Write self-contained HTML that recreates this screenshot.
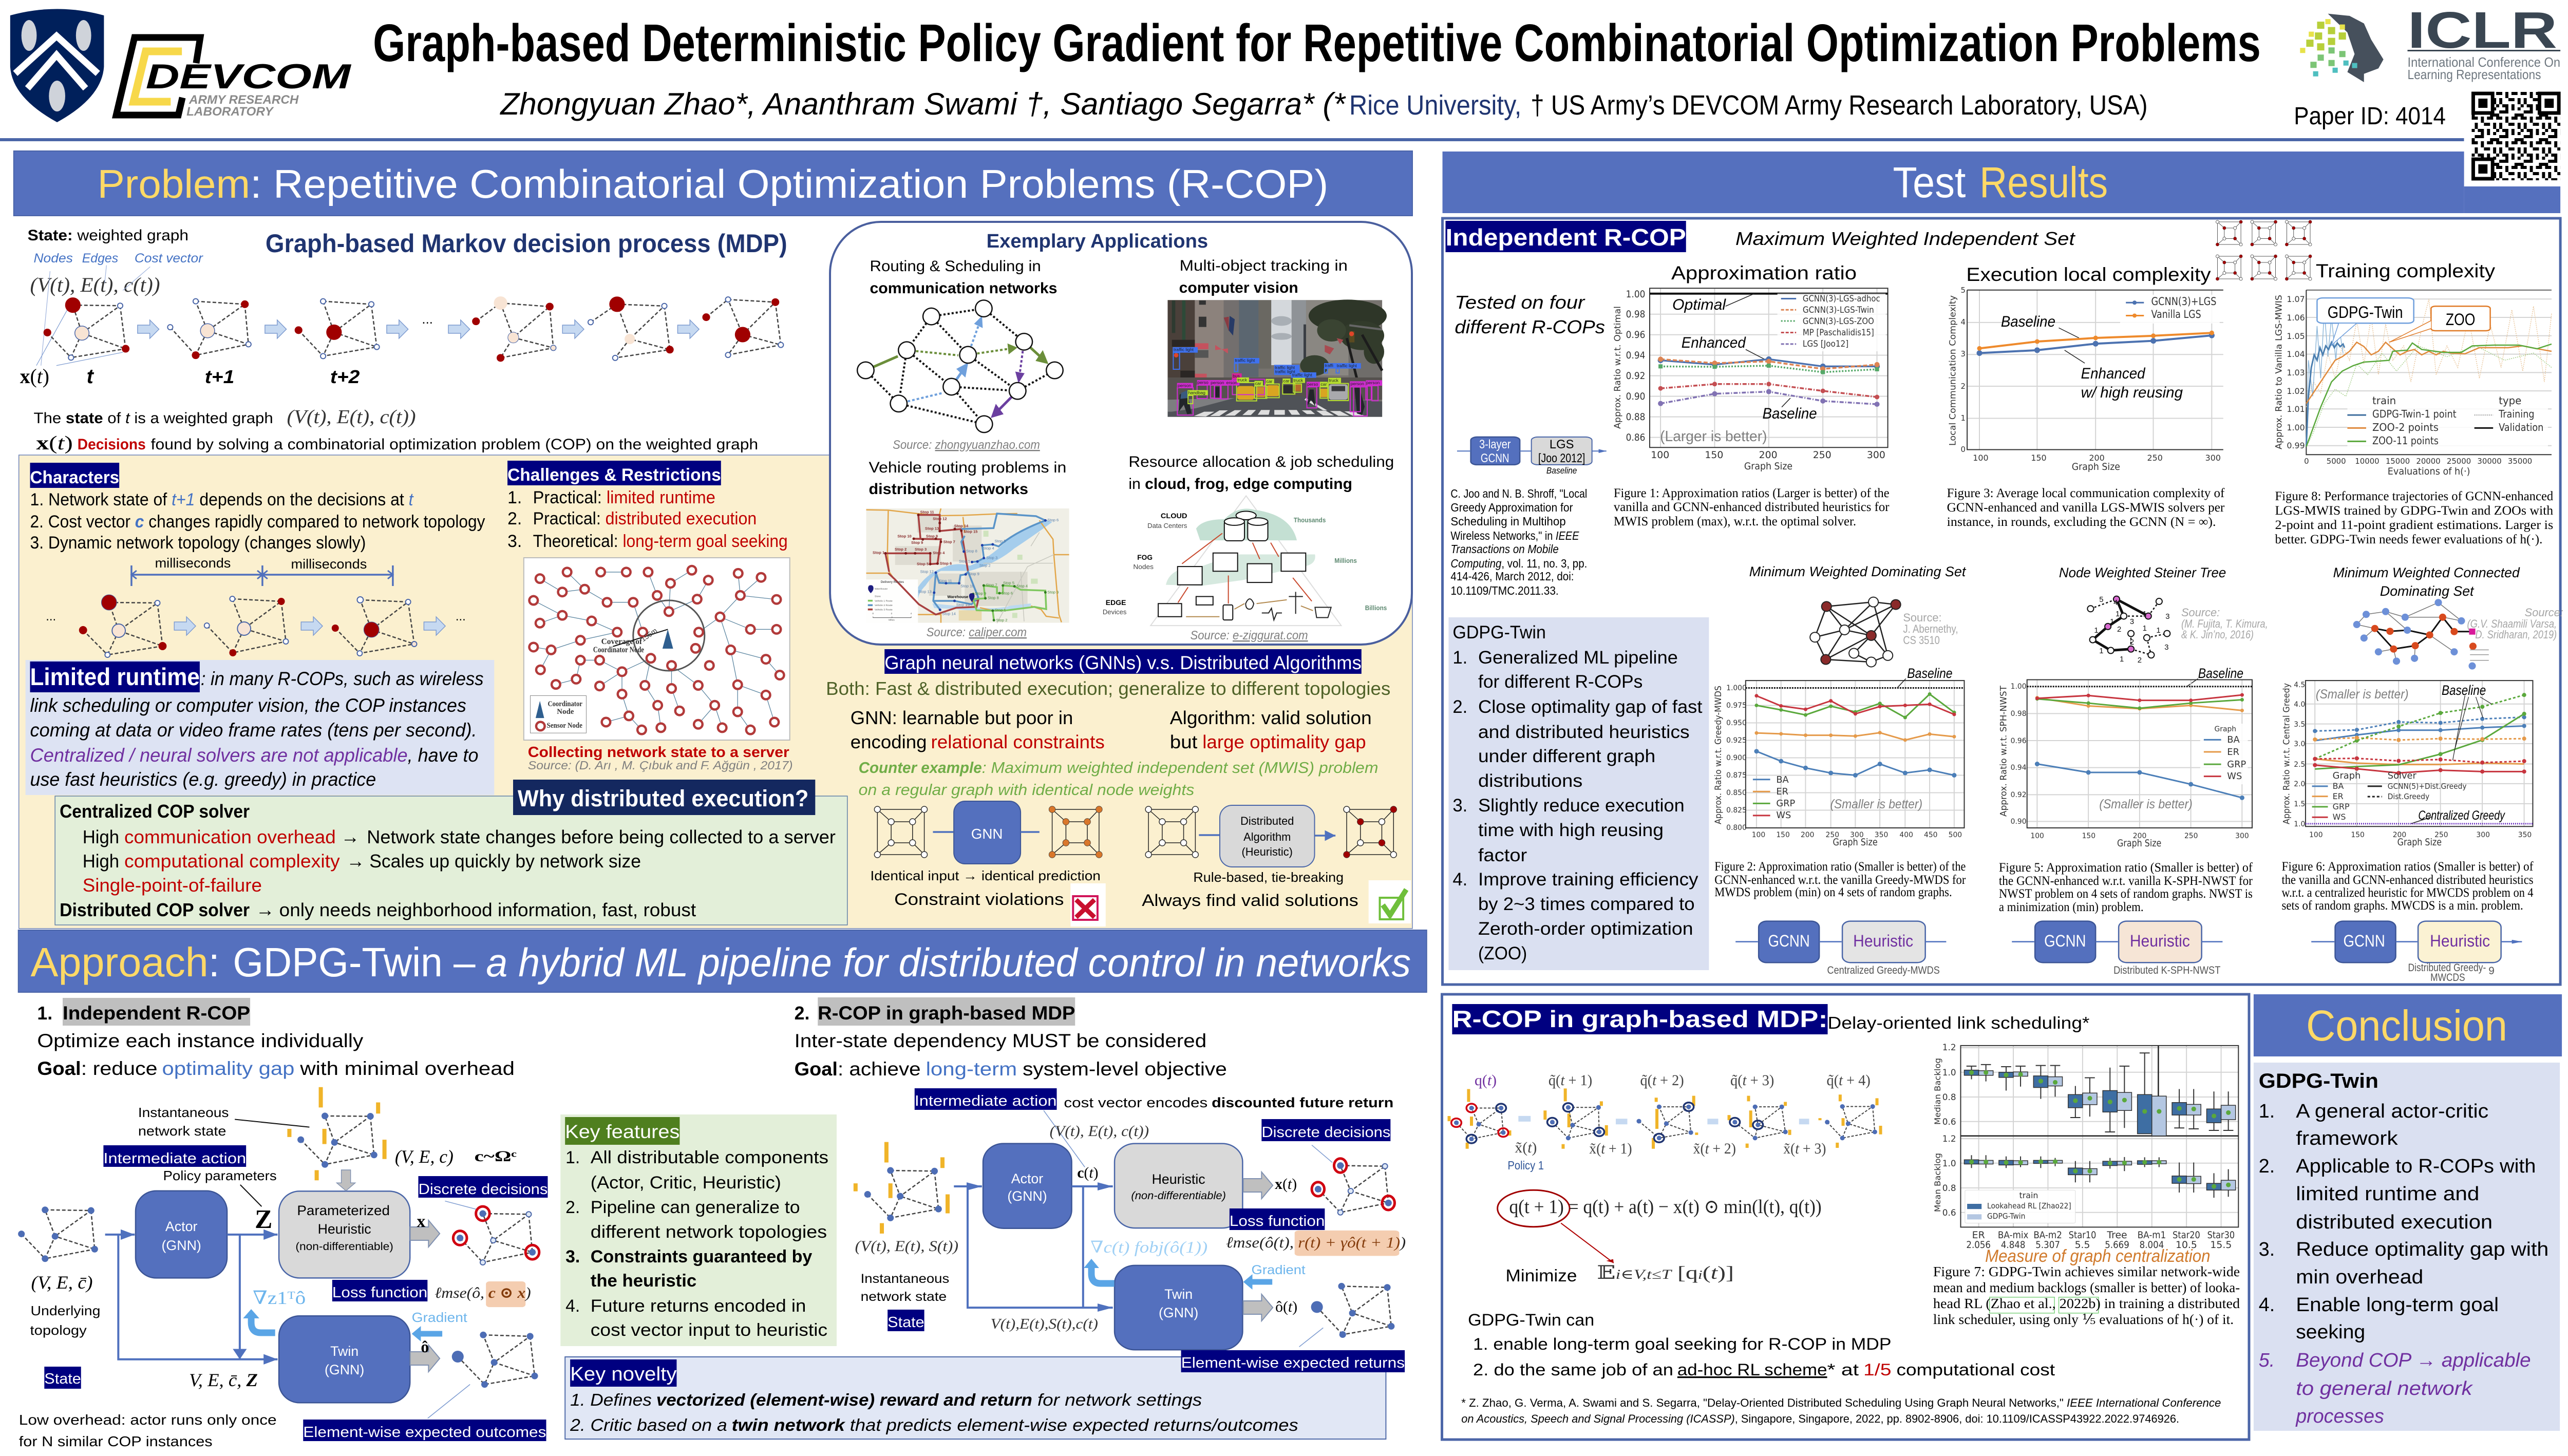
<!DOCTYPE html>
<html><head><meta charset="utf-8"><title>Graph-based Deterministic Policy Gradient for Repetitive Combinatorial Optimization Problems</title>
<style>
html,body{margin:0;padding:0;background:#fff;overflow:hidden}
svg{display:block;width:100vw;height:100vh;font-family:"Liberation Sans","DejaVu Sans",sans-serif}
g[transform] *{vector-effect:non-scaling-stroke}
.b{font-weight:700}.i{font-style:italic}
.se{font-family:"Liberation Serif","DejaVu Serif",serif}
.dj{font-family:"DejaVu Sans",sans-serif}
.d{fill:none;stroke-linecap:round}
.q{fill:none;stroke-linecap:square}
.e{fill:none;stroke:#444;stroke-width:2.5;stroke-dasharray:7 4}
.l{fill:none}
.rb{stroke:#a00000;stroke-width:30}.rs{stroke:#a00000;stroke-width:15}
.pk{stroke:#f8e4d4;stroke-width:26}.ws{stroke:#fff;stroke-width:8}
.o1{stroke:#4a66a8;stroke-width:12}.o2{stroke:#4a66a8;stroke-width:29}
.bn{stroke:#4d6db5;stroke-width:13}
.bar{stroke:#f0b429;stroke-width:8;stroke-linecap:butt;fill:none}
.rc{fill:none;stroke:#d00010;stroke-width:5}
.t{fill:#5470be;stroke:#3c5596;stroke-width:2.5}
.g{fill:#d9d9d9;stroke:#4a66a8;stroke-width:2.5}
.ln{fill:none;stroke:#4f71be;stroke-width:4}
.gr{fill:none;stroke:#d4d4d4;stroke-width:2}
</style></head><body>
<svg xmlns="http://www.w3.org/2000/svg" width="5040" height="2835" viewBox="0 0 5040 2835" preserveAspectRatio="none">
<defs>
<marker id="ab" markerWidth="7" markerHeight="7" refX="6" refY="3" orient="auto"><path d="M0 0L6 3L0 6Z" fill="#4f71be"/></marker>
<marker id="ar" markerWidth="7" markerHeight="7" refX="6" refY="3" orient="auto"><path d="M0 0L6 3L0 6Z" fill="#b00000"/></marker>
<marker id="mg" markerWidth="5" markerHeight="5" refX="4" refY="2.5" orient="auto"><path d="M0 0L5 2.5L0 5Z" fill="#6b8e3a"/></marker>
<marker id="mb" markerWidth="5" markerHeight="5" refX="4" refY="2.5" orient="auto"><path d="M0 0L5 2.5L0 5Z" fill="#6fa0dc"/></marker>
<marker id="mp" markerWidth="5" markerHeight="5" refX="4" refY="2.5" orient="auto"><path d="M0 0L5 2.5L0 5Z" fill="#6b3fa0"/></marker>
<polygon id="la" points="0,-8 24,-8 24,-18 42,0 24,18 24,8 0,8" fill="#c6d9f1" stroke="#7d9bd0" stroke-width="1.5"/>
<polygon id="ga" points="0,-13 36,-13 36,-26 58,0 36,26 36,13 0,13" fill="#bfbfbf" stroke="#7f90b0" stroke-width="2"/>
<g id="cw"><path d="M0 0H92V88H0ZM27 24H69V65H27ZM0 0L27 24M92 0L69 24M0 88L27 65M92 88L69 65" fill="none" stroke="#222" stroke-width="1.5"/><circle cx="0" cy="0" r="6" fill="#fff" stroke="#333" stroke-width="1.5"/><circle cx="92" cy="0" r="6" fill="#fff" stroke="#333" stroke-width="1.5"/><circle cx="0" cy="88" r="6" fill="#fff" stroke="#333" stroke-width="1.5"/><circle cx="92" cy="88" r="6" fill="#fff" stroke="#333" stroke-width="1.5"/><circle cx="27" cy="24" r="6" fill="#fff" stroke="#333" stroke-width="1.5"/><circle cx="69" cy="24" r="6" fill="#fff" stroke="#333" stroke-width="1.5"/><circle cx="27" cy="65" r="6" fill="#fff" stroke="#333" stroke-width="1.5"/><circle cx="69" cy="65" r="6" fill="#fff" stroke="#333" stroke-width="1.5"/></g>
<g id="cr"><use href="#cw"/><circle cx="92" cy="0" r="6" fill="#a00000"/><circle cx="0" cy="88" r="6" fill="#a00000"/><circle cx="27" cy="24" r="6" fill="#a00000"/><circle cx="69" cy="65" r="6" fill="#a00000"/></g>
<pattern id="qr" width="48" height="48" patternUnits="userSpaceOnUse" x="4851" y="179"><path fill="#000" d="M0 0h12v6H0zM18 0h6v12h-6zM30 0h12v6H30zM6 12h6v12H6zM24 12h12v6H24zM42 12h6v12h-6zM0 24h6v6H0zM12 24h12v6H12zM30 24h6v12h-6zM6 36h18v6H6zM42 30h6v6h-6zM36 42h12v6H36zM0 42h6v6H0zM18 30h6v6h-6z"/></pattern>
</defs>
<rect width="5040" height="2835" fill="#fff"/>

<!-- HEADER -->
<path d="M20 30Q112 5 204 30L204 130Q200 190 112 238Q24 190 20 130Z" fill="#00205b"/>
<path d="M30 143L111 70L192 143M54 172L111 107L168 172" fill="none" stroke="#fff" stroke-width="13"/>
<ellipse cx="57" cy="69" rx="15" ry="30" fill="#cfd3da"/><ellipse cx="164" cy="69" rx="15" ry="30" fill="#cfd3da"/><ellipse cx="112" cy="187" rx="16" ry="30" fill="#cfd3da"/>
<path d="M385 123L393 73H264L228 224H350L358 190" fill="none" stroke="#000" stroke-width="13"/>
<path d="M357 100H286L262 198H335" fill="none" stroke="#f7d84a" stroke-width="15"/>
<text x="286" y="172" font-size="68" class="b i" textLength="402" lengthAdjust="spacingAndGlyphs">DEVCOM</text>
<text x="371" y="202" font-size="24" class="i b" fill="#8a8a8a" textLength="215" lengthAdjust="spacingAndGlyphs">ARMY RESEARCH</text>
<text x="366" y="225" font-size="24" class="i b" fill="#8a8a8a" textLength="170" lengthAdjust="spacingAndGlyphs">LABORATORY</text>
<text x="732" y="119" font-size="103" class="b" textLength="3705" lengthAdjust="spacingAndGlyphs">Graph-based Deterministic Policy Gradient for Repetitive Combinatorial Optimization Problems</text>
<text x="982" y="223" font-size="60" class="i" textLength="1658" lengthAdjust="spacingAndGlyphs">Zhongyuan Zhao*, Ananthram Swami †, Santiago Segarra* (*</text>
<text x="2648" y="223" font-size="54" fill="#1f3470" textLength="338" lengthAdjust="spacingAndGlyphs">Rice University,</text>
<text x="3004" y="223" font-size="54" textLength="1211" lengthAdjust="spacingAndGlyphs">† US Army’s DEVCOM Army Research Laboratory, USA)</text>
<rect x="0" y="269" width="4836" height="6" fill="#4a66a8"/>
<g transform="matrix(1.416 0 0 .7015 2820 0)">
<path d="M1235 38L1265 44L1285 65L1295 110L1312 165L1305 190L1285 205L1285 228L1262 200L1272 150L1262 90Z" fill="#46505c"/>
<path class="q" stroke="#b7cf3a" stroke-width="14" d="M1225 70h.1M1240 85h.1M1222 100h.1M1240 115h.1M1255 100h.1M1210 120h.1M1225 130h.1"/>
<path class="q" stroke="#e7e24a" stroke-width="10" d="M1200 140h.1M1212 95h.1M1255 75h.1M1235 60h.1"/>
<path class="q" stroke="#7cc576" stroke-width="12" d="M1240 140h.1M1225 160h.1M1255 150h.1M1215 180h.1M1240 175h.1"/>
<path class="q" stroke="#4fbfc0" stroke-width="10" d="M1260 175h.1M1245 195h.1M1218 205h.1M1272 182h.1"/>
</g>
<text x="4725" y="93" font-size="100" class="b" fill="#3a4652" textLength="294" lengthAdjust="spacingAndGlyphs">ICLR</text>
<rect x="4725" y="97" width="300" height="3" fill="#3a4652"/>
<text x="4725" y="130" font-size="26" fill="#6f7880" textLength="300" lengthAdjust="spacingAndGlyphs">International Conference On</text>
<text x="4725" y="154" font-size="26" fill="#6f7880" textLength="262" lengthAdjust="spacingAndGlyphs">Learning Representations</text>
<text x="4502" y="242" font-size="48" textLength="298" lengthAdjust="spacingAndGlyphs">Paper ID: 4014</text>
<rect x="4836" y="165" width="204" height="198" fill="#fff"/>
<rect x="4851" y="179" width="174" height="172" fill="url(#qr)"/>
<g fill="#fff" stroke="#000" stroke-width="7"><rect x="4854" y="182" width="38" height="38"/><rect x="4984" y="182" width="38" height="38"/><rect x="4854" y="310" width="38" height="38"/></g>
<path d="M4864 192h18v18h-18zM4994 192h18v18h-18zM4864 320h18v18h-18z" fill="#000"/>

<!-- PROBLEM BAND -->
<rect x="27" y="294" width="2745" height="126" fill="#5570be" stroke="#4a64a8" stroke-width="2"/>
<text x="191" y="385" font-size="78" fill="#ffd966" textLength="300" lengthAdjust="spacingAndGlyphs">Problem</text>
<text x="491" y="385" font-size="78" fill="#fff" textLength="2116" lengthAdjust="spacingAndGlyphs">: Repetitive Combinatorial Optimization Problems (R-COP)</text>

<text x="54" y="468" font-size="30" textLength="316" lengthAdjust="spacingAndGlyphs"><tspan class="b">State:</tspan> weighted graph</text>
<text x="66" y="511" font-size="25" class="i" fill="#4472c4" textLength="77" lengthAdjust="spacingAndGlyphs">Nodes</text>
<text x="161" y="511" font-size="25" class="i" fill="#4472c4" textLength="71" lengthAdjust="spacingAndGlyphs">Edges</text>
<text x="264" y="511" font-size="25" class="i" fill="#4472c4" textLength="134" lengthAdjust="spacingAndGlyphs">Cost vector</text>
<text x="59" y="568" font-size="40" class="se i" fill="#333" textLength="255" lengthAdjust="spacingAndGlyphs">(V(t), E(t), c(t))</text>
<text x="521" y="491" font-size="50" class="b" fill="#1f3470" textLength="1024" lengthAdjust="spacingAndGlyphs">Graph-based Markov decision process (MDP)</text>

<g transform="matrix(1.786 0 0 .574 0 0)">
<path d="M55 920L45 1240M165 905L135 985M117 900L115 960" stroke="#9fb3dd" stroke-width="1.2" fill="none"/>
<path d="M62 1240L135 1195M40 1240L75 1045" stroke="#7d9bd0" stroke-width="1.2" fill="none"/>
<path class="e" d="M80 1035L132 1037L90 1130L80 1035M132 1037L138 1183L90 1130L78 1213L138 1183M52 1128L78 1213"/>
<path class="d o1" d="M132 1037h.1M78 1213h.1"/><path class="d ws" d="M132 1037h.1M78 1213h.1"/>
<path class="d rb" d="M80 1035h.1"/><path class="d rs" d="M52 1128h.1M138 1183h.1"/><path class="d o2" d="M90 1130h.1"/><path class="d pk" d="M90 1130h.1"/>
<path class="e" d="M215 1022L269 1032L228 1122L215 1022M269 1032L273 1168L228 1122L215 1205L273 1168M187 1110L215 1205"/>
<path class="d o1" d="M215 1022h.1M187 1110h.1M273 1168h.1"/><path class="d ws" d="M215 1022h.1M187 1110h.1M273 1168h.1"/>
<path class="d rs" d="M269 1032h.1M215 1205h.1"/><path class="d o2" d="M228 1122h.1"/><path class="d pk" d="M228 1122h.1"/>
<path class="e" d="M355 1022L408 1032L367 1127L355 1022M408 1032L414 1177L367 1127L355 1208L414 1177M328 1120L355 1208"/>
<path class="d o1" d="M355 1022h.1M408 1032h.1M414 1177h.1M355 1208h.1"/><path class="d ws" d="M355 1022h.1M408 1032h.1M414 1177h.1M355 1208h.1"/>
<path class="d rs" d="M328 1120h.1"/><path class="d rb" d="M367 1127h.1"/>
<path class="e" d="M550 1028L604 1040L564 1145L550 1028M604 1040L608 1180L564 1145L550 1214L608 1180M523 1090L550 1028"/>
<path class="d o2" d="M550 1028h.1M564 1145h.1" style="stroke-width:22"/><path class="d pk" d="M550 1028h.1" style="stroke-width:26"/><path class="d pk" d="M564 1145h.1" style="stroke-width:20"/>
<path class="d rs" d="M604 1040h.1M523 1090h.1M550 1214h.1"/><path class="d o1" d="M608 1180h.1"/><path class="d pk" d="M608 1180h.1" style="stroke-width:9"/>
<path class="e" d="M678 1032L730 1038L692 1150L678 1032M730 1038L736 1186L692 1150L676 1214L736 1186M649 1093L678 1032"/>
<path class="d o1" d="M730 1038h.1M649 1093h.1M676 1214h.1"/><path class="d ws" d="M730 1038h.1M649 1093h.1M676 1214h.1"/>
<path class="d rb" d="M678 1032h.1"/><path class="d rs" d="M736 1186h.1"/><path class="d pk" d="M692 1150h.1" style="stroke-width:20"/>
<path class="e" d="M800 1016L852 1025L816 1135L800 1016M852 1025L858 1170L816 1135L800 1204L858 1170M776 1076L800 1016"/>
<path class="d o1" d="M800 1016h.1M858 1170h.1M800 1204h.1"/><path class="d ws" d="M800 1016h.1M858 1170h.1M800 1204h.1"/>
<path class="d rs" d="M852 1025h.1M776 1076h.1"/><path class="d rb" d="M816 1135h.1"/>
</g>
<use href="#la" x="270" y="641"/><use href="#la" x="520" y="641"/><use href="#la" x="759" y="641"/><use href="#la" x="880" y="641"/><use href="#la" x="1104" y="641"/><use href="#la" x="1330" y="641"/>
<text x="828" y="630" font-size="26">...</text>
<text x="39" y="746" font-size="40" class="se"><tspan class="b">x</tspan>(<tspan class="i">t</tspan>)</text>
<text x="170" y="746" font-size="40" class="b i">t</text><text x="402" y="746" font-size="36" class="b i" textLength="58" lengthAdjust="spacingAndGlyphs">t+1</text><text x="648" y="746" font-size="36" class="b i" textLength="58" lengthAdjust="spacingAndGlyphs">t+2</text>
<text x="66" y="824" font-size="30" textLength="470" lengthAdjust="spacingAndGlyphs">The <tspan class="b">state</tspan> of <tspan class="i">t</tspan> is a weighted graph</text>
<text x="563" y="824" font-size="38" class="se i" fill="#333" textLength="253" lengthAdjust="spacingAndGlyphs">(V(t), E(t), c(t))</text>
<text x="71" y="875" font-size="38" class="se" textLength="72" lengthAdjust="spacingAndGlyphs"><tspan class="b">x</tspan>(<tspan class="i">t</tspan>)</text>
<text x="152" y="875" font-size="30" class="b" fill="#c00000" textLength="134" lengthAdjust="spacingAndGlyphs">Decisions</text>
<text x="296" y="875" font-size="30" textLength="1192" lengthAdjust="spacingAndGlyphs">found by solving a combinatorial optimization problem (COP) on the weighted graph</text>

<!-- YELLOW PANEL -->
<rect x="37" y="886" width="2735" height="922" fill="#fbf0cf" stroke="#6c82b8" stroke-width="1.5"/>
<rect x="59" y="901" width="175" height="49" fill="#000080"/>
<text x="59" y="941" font-size="34" class="b" fill="#fff" textLength="175" lengthAdjust="spacingAndGlyphs">Characters</text>
<text x="59" y="984" font-size="34" textLength="752" lengthAdjust="spacingAndGlyphs">1. Network state of <tspan class="i" fill="#4472c4">t+1</tspan> depends on the decisions at <tspan class="i" fill="#4472c4">t</tspan></text>
<text x="59" y="1027" font-size="34" textLength="893" lengthAdjust="spacingAndGlyphs">2. Cost vector <tspan class="i b" fill="#4472c4">c</tspan> changes rapidly compared to network topology</text>
<text x="59" y="1068" font-size="34" textLength="659" lengthAdjust="spacingAndGlyphs">3. Dynamic network topology (changes slowly)</text>
<rect x="996" y="897" width="419" height="48" fill="#000080"/>
<text x="996" y="936" font-size="34" class="b" fill="#fff" textLength="419" lengthAdjust="spacingAndGlyphs">Challenges &amp; Restrictions</text>
<text x="996" y="980" font-size="34">1.</text><text x="1046" y="980" font-size="34" textLength="358" lengthAdjust="spacingAndGlyphs">Practical: <tspan fill="#c00000">limited runtime</tspan></text>
<text x="996" y="1021" font-size="34">2.</text><text x="1046" y="1021" font-size="34" textLength="439" lengthAdjust="spacingAndGlyphs">Practical: <tspan fill="#c00000">distributed execution</tspan></text>
<text x="996" y="1065" font-size="34">3.</text><text x="1046" y="1065" font-size="34" textLength="500" lengthAdjust="spacingAndGlyphs">Theoretical: <tspan fill="#c00000">long-term goal seeking</tspan></text>
<text x="304" y="1105" font-size="26" textLength="149" lengthAdjust="spacingAndGlyphs">milliseconds</text><text x="571" y="1107" font-size="26" textLength="149" lengthAdjust="spacingAndGlyphs">milliseconds</text>
<path d="M258 1101V1141M515 1101V1141M771 1101V1141M258 1119H771" stroke="#5070bd" stroke-width="3.5" fill="none"/>
<path d="M268 1111L258 1119L268 1127M505 1111L515 1119L505 1127M525 1111L515 1119L525 1127M761 1111L771 1119L761 1127" stroke="#5070bd" stroke-width="3" fill="none"/>
<path class="e" d="M214 1173L309 1174L233 1228L214 1173M309 1174L319 1258L233 1228L211 1275L319 1258M163 1227L211 1275M456 1166L552 1171L479 1224L456 1166M552 1171L561 1249L479 1224L457 1271L561 1249M406 1218L457 1271M707 1168L801 1172L729 1226L707 1168M801 1172L813 1254L729 1226L706 1272L813 1254M658 1223L706 1272"/>
<circle cx="214" cy="1173" r="15" fill="#a00000" stroke="#4a66a8"/><circle cx="309" cy="1174" r="5" fill="#fff" stroke="#4a66a8" stroke-width="2"/><circle cx="163" cy="1227" r="8" fill="#a00000"/><circle cx="233" cy="1228" r="13" fill="#f8e4d4" stroke="#4a66a8" stroke-width="2"/><circle cx="319" cy="1258" r="8" fill="#a00000"/><circle cx="211" cy="1275" r="5" fill="#fff" stroke="#4a66a8" stroke-width="2"/>
<circle cx="456" cy="1166" r="5" fill="#fff" stroke="#4a66a8" stroke-width="2"/><circle cx="552" cy="1171" r="7" fill="#a00000"/><circle cx="406" cy="1218" r="5" fill="#fff" stroke="#4a66a8" stroke-width="2"/><circle cx="479" cy="1224" r="13" fill="#f8e4d4" stroke="#4a66a8" stroke-width="2"/><circle cx="561" cy="1249" r="5" fill="#fff" stroke="#4a66a8" stroke-width="2"/><circle cx="457" cy="1271" r="7" fill="#a00000"/>
<circle cx="707" cy="1168" r="6" fill="#fff" stroke="#4a66a8" stroke-width="2"/><circle cx="801" cy="1172" r="5" fill="#fff" stroke="#4a66a8" stroke-width="2"/><circle cx="658" cy="1223" r="7" fill="#a00000"/><circle cx="729" cy="1226" r="15" fill="#a00000" stroke="#4a66a8"/><circle cx="813" cy="1254" r="5" fill="#f8e4d4" stroke="#4a66a8" stroke-width="2"/><circle cx="706" cy="1272" r="5" fill="#fff" stroke="#4a66a8" stroke-width="2"/>
<use href="#la" x="342" y="1219"/><use href="#la" x="591" y="1219"/><use href="#la" x="832" y="1219"/>
<text x="90" y="1208" font-size="24">...</text><text x="894" y="1208" font-size="24">...</text>

<!-- Network figure -->
<rect x="1028" y="1086" width="522" height="355" fill="#fff" stroke="#bbb" stroke-width="2"/>
<g transform="matrix(1.046 0 0 .606 0 880)">
<path fill="none" stroke="#5b85a0" stroke-width="1.3" d="M1013 407L1055 450M1064 386L1097 441M1127 386L1175 386M1216 386L1233 461M1298 380L1258 422M1329 412L1308 473M1385 390L1389 461M1428 403L1389 461M1055 450L1097 441M1097 441L1139 483M1139 483L1188 483M1188 483L1206 579M1233 461L1255 513M1258 422L1255 513M1308 473L1255 513M1389 461L1351 530M1457 474L1389 461M1001 477L1055 525M1013 550L1055 525M1055 525L1110 543M1110 543L1158 579M1351 530L1311 579M1408 570L1351 530M1457 570L1408 570M1158 579L1089 605M1034 636L1089 605M1001 627L1034 636M1014 700L1034 636M1089 669L1125 669M1125 669L1167 706M1221 663L1167 706M1167 706L1167 778M1081 730L1089 669M1043 747L1081 730M1125 752L1167 706M1210 750L1221 663M1260 760L1260 686M1310 750L1260 686M1384 748L1371 636M1437 666L1371 636M1437 781L1384 748M1371 636L1351 530M1463 717L1437 666M1234 814L1210 750M1275 832L1260 760M1341 814L1310 750M1384 835L1384 748M1180 848L1167 778M1137 868L1180 848M1204 893L1180 848M1240 886L1234 814M1310 875L1341 814M1355 886L1341 814M1408 893L1384 835M1453 868L1437 781"/>
<ellipse cx="1255" cy="590" rx="67" ry="113" fill="none" stroke="#555" stroke-width="3"/>
<path d="M1253 570L1243 632H1263Z" fill="#2f5f8f"/>
<path d="M1150 625L1253 570" stroke="#111" stroke-width="2"/>
<path class="d" stroke="#b23a3a" stroke-width="21" d="M1013 407h.1M1064 386h.1M1127 386h.1M1175 386h.1M1216 386h.1M1298 380h.1M1329 412h.1M1385 390h.1M1428 403h.1M1055 450h.1M1097 441h.1M1139 483h.1M1188 483h.1M1233 461h.1M1258 422h.1M1308 473h.1M1389 461h.1M1457 474h.1M1001 477h.1M1055 525h.1M1013 550h.1M1110 543h.1M1255 513h.1M1351 530h.1M1408 570h.1M1457 570h.1M1158 579h.1M1206 579h.1M1311 579h.1M1001 627h.1M1034 636h.1M1089 605h.1M1305 631h.1M1371 636h.1M1437 666h.1M1463 717h.1M1014 700h.1M1089 669h.1M1125 669h.1M1221 663h.1M1260 686h.1M1331 686h.1M1167 706h.1M1081 730h.1M1043 747h.1M1125 752h.1M1210 750h.1M1260 760h.1M1310 750h.1M1384 748h.1M1437 781h.1M1167 778h.1M1234 814h.1M1275 832h.1M1341 814h.1M1384 835h.1M1180 848h.1M1137 868h.1M1204 893h.1M1240 886h.1M1310 875h.1M1355 886h.1M1408 893h.1M1453 868h.1"/>
<path class="d" stroke="#fff" stroke-width="12" d="M1013 407h.1M1064 386h.1M1127 386h.1M1175 386h.1M1216 386h.1M1298 380h.1M1329 412h.1M1385 390h.1M1428 403h.1M1055 450h.1M1097 441h.1M1139 483h.1M1188 483h.1M1233 461h.1M1258 422h.1M1308 473h.1M1389 461h.1M1457 474h.1M1001 477h.1M1055 525h.1M1013 550h.1M1110 543h.1M1255 513h.1M1351 530h.1M1408 570h.1M1457 570h.1M1158 579h.1M1206 579h.1M1311 579h.1M1001 627h.1M1034 636h.1M1089 605h.1M1305 631h.1M1371 636h.1M1437 666h.1M1463 717h.1M1014 700h.1M1089 669h.1M1125 669h.1M1221 663h.1M1260 686h.1M1331 686h.1M1167 706h.1M1081 730h.1M1043 747h.1M1125 752h.1M1210 750h.1M1260 760h.1M1310 750h.1M1384 748h.1M1437 781h.1M1167 778h.1M1234 814h.1M1275 832h.1M1341 814h.1M1384 835h.1M1180 848h.1M1137 868h.1M1204 893h.1M1240 886h.1M1310 875h.1M1355 886h.1M1408 893h.1M1453 868h.1"/>
<rect x="995" y="783" width="105" height="120" fill="#fff" stroke="#888" stroke-width="1"/>
<path d="M1013 800L1005 855H1021Z" fill="#2f5f8f"/>
<path class="d" stroke="#b23a3a" stroke-width="21" d="M1014 881h.1"/><path class="d" stroke="#fff" stroke-width="12" d="M1014 881h.1"/>
</g>
<text x="1180" y="1254" font-size="16" class="se b" fill="#333" textLength="80" lengthAdjust="spacingAndGlyphs">Coverage of</text>
<text x="1164" y="1270" font-size="16" class="se b" fill="#333" textLength="100" lengthAdjust="spacingAndGlyphs">Coordinator Node</text>
<text x="1262" y="1250" font-size="14" fill="#333" transform="rotate(-35 1262 1250)">155m</text>
<text x="1075" y="1375" font-size="15" class="se b" fill="#333" textLength="68" lengthAdjust="spacingAndGlyphs">Coordinator</text>
<text x="1093" y="1390" font-size="15" class="se b" fill="#333">Node</text>
<text x="1073" y="1417" font-size="15" class="se b" fill="#333" textLength="70" lengthAdjust="spacingAndGlyphs">Sensor Node</text>
<text x="1036" y="1474" font-size="29" class="b" fill="#c00000" textLength="513" lengthAdjust="spacingAndGlyphs">Collecting network state to a server</text>
<text x="1036" y="1498" font-size="23" class="i" fill="#7f7f7f" textLength="520" lengthAdjust="spacingAndGlyphs">Source: (D. Arı , M. Çıbuk and F. Ağgün , 2017)</text>

<!-- limited runtime -->
<rect x="50" y="1285" width="920" height="263" fill="#dde3f3"/>
<rect x="59" y="1288" width="333" height="60" fill="#000080"/>
<text x="59" y="1334" font-size="47" class="b" fill="#fff" textLength="333" lengthAdjust="spacingAndGlyphs">Limited runtime</text>
<text x="394" y="1334" font-size="37" class="i" textLength="555" lengthAdjust="spacingAndGlyphs">: in many R-COPs, such as wireless</text>
<text x="59" y="1386" font-size="37" class="i" textLength="856" lengthAdjust="spacingAndGlyphs">link scheduling or computer vision, the COP instances</text>
<text x="59" y="1434" font-size="37" class="i" textLength="877" lengthAdjust="spacingAndGlyphs">coming at data or video frame rates (tens per second).</text>
<text x="59" y="1483" font-size="37" class="i" fill="#7030a0" textLength="741" lengthAdjust="spacingAndGlyphs">Centralized / neural solvers are not applicable</text>
<text x="800" y="1483" font-size="37" class="i" textLength="139" lengthAdjust="spacingAndGlyphs">, have to</text>
<text x="59" y="1530" font-size="37" class="i" textLength="679" lengthAdjust="spacingAndGlyphs">use fast heuristics (e.g. greedy) in practice</text>

<!-- green -->
<rect x="108" y="1550" width="1555" height="251" fill="#e3efd9" stroke="#5f7fa8" stroke-width="1.5"/>
<text x="117" y="1592" font-size="36" class="b" textLength="373" lengthAdjust="spacingAndGlyphs">Centralized COP solver</text>
<text x="162" y="1642" font-size="36" textLength="72" lengthAdjust="spacingAndGlyphs">High</text><text x="244" y="1642" font-size="36" fill="#c00000" textLength="415" lengthAdjust="spacingAndGlyphs">communication overhead</text>
<text x="669" y="1642" font-size="38" class="b" textLength="37" lengthAdjust="spacingAndGlyphs">→</text>
<text x="720" y="1642" font-size="36" textLength="920" lengthAdjust="spacingAndGlyphs">Network state changes before being collected to a server</text>
<text x="162" y="1689" font-size="36" textLength="72" lengthAdjust="spacingAndGlyphs">High</text><text x="244" y="1689" font-size="36" fill="#c00000" textLength="423" lengthAdjust="spacingAndGlyphs">computational complexity</text>
<text x="680" y="1689" font-size="38" class="b" textLength="36" lengthAdjust="spacingAndGlyphs">→</text>
<text x="725" y="1689" font-size="36" textLength="533" lengthAdjust="spacingAndGlyphs">Scales up quickly by network size</text>
<text x="162" y="1736" font-size="36" fill="#c00000" textLength="352" lengthAdjust="spacingAndGlyphs">Single-point-of-failure</text>
<text x="117" y="1784" font-size="36" class="b" textLength="373" lengthAdjust="spacingAndGlyphs">Distributed COP solver</text>
<text x="502" y="1784" font-size="38" class="b" textLength="37" lengthAdjust="spacingAndGlyphs">→</text>
<text x="548" y="1784" font-size="36" textLength="818" lengthAdjust="spacingAndGlyphs">only needs neighborhood information, fast, robust</text>
<rect x="1007" y="1518" width="593" height="69" fill="#14285f"/>
<text x="1016" y="1570" font-size="45" class="b" fill="#fff" textLength="571" lengthAdjust="spacingAndGlyphs">Why distributed execution?</text>

<!-- Exemplary applications -->
<rect x="1629" y="432" width="1142" height="823" rx="100" ry="100" fill="#fff" stroke="#4a5f9e" stroke-width="4"/>
<text x="1936" y="482" font-size="38" class="b" fill="#1f3470" textLength="435" lengthAdjust="spacingAndGlyphs">Exemplary Applications</text>
<text x="1707" y="528" font-size="30" textLength="336" lengthAdjust="spacingAndGlyphs">Routing &amp; Scheduling in</text>
<text x="1707" y="571" font-size="30" class="b" textLength="368" lengthAdjust="spacingAndGlyphs">communication networks</text>
<text x="2315" y="527" font-size="30" textLength="330" lengthAdjust="spacingAndGlyphs">Multi-object tracking in</text>
<text x="2314" y="570" font-size="30" class="b" textLength="234" lengthAdjust="spacingAndGlyphs">computer vision</text>
<g transform="matrix(.791 0 0 .912 1600 400)">
<path fill="none" stroke="#111" stroke-width="4" stroke-dasharray="4 4" d="M288 237L418 220M288 237L227 309M288 237L379 319M418 220L518 291M379 319L502 396M227 309L338 387M227 309L207 423M125 352L207 423M207 423L419 467M338 387L502 396M338 387L419 467M502 396L594 352"/>
<path d="M125 352L205 322M518 291L574 335" stroke="#6b8e3a" stroke-width="5" marker-end="url(#mg)" fill="none"/>
<path d="M227 309L355 320M379 319L497 304" stroke="#6b8e3a" stroke-width="4" stroke-dasharray="5 4" marker-end="url(#mg)" fill="none"/>
<path d="M207 423L318 400M379 319L412 240" stroke="#6fa0dc" stroke-width="4" stroke-dasharray="5 4" marker-end="url(#mb)" fill="none"/>
<path d="M338 387L376 340" stroke="#6fa0dc" stroke-width="5" marker-end="url(#mb)" fill="none"/>
<path d="M518 291L505 375" stroke="#6b3fa0" stroke-width="4" stroke-dasharray="5 4" marker-end="url(#mp)" fill="none"/>
<path d="M502 396L440 450" stroke="#6b3fa0" stroke-width="5" marker-end="url(#mp)" fill="none"/>
<path class="d" stroke="#111" stroke-width="35" d="M288 237h.1M227 309h.1M379 319h.1M338 387h.1M502 396h.1M418 220h.1M518 291h.1M125 352h.1M594 352h.1M207 423h.1M419 467h.1"/>
<path class="d" stroke="#fff" stroke-width="30" d="M288 237h.1M227 309h.1M379 319h.1M338 387h.1M502 396h.1M418 220h.1M518 291h.1M125 352h.1M594 352h.1M207 423h.1M419 467h.1"/>
<!-- pyramid -->
<path d="M1069 620L1305 897H832Z" fill="#fff" stroke="#ddd" stroke-width="2"/>
<path d="M945 690Q960 670 1015 670Q1050 640 1090 650Q1180 660 1195 715H955Z" fill="#c4e0d3"/>
<path d="M870 810Q880 770 960 770L1040 745H1240Q1245 770 1200 772L1060 800L960 812Z" fill="#d6e9df"/>
<g fill="#fff" stroke="#111" stroke-width="2"><rect x="1015" y="672" width="50" height="44" rx="8"/><rect x="1073" y="670" width="50" height="46" rx="8"/><ellipse cx="1069" cy="662" rx="25" ry="9"/><ellipse cx="1040" cy="675" rx="25" ry="8"/><ellipse cx="1098" cy="675" rx="25" ry="8"/>
<rect x="899" y="771" width="61" height="39"/><rect x="987" y="742" width="61" height="39"/><rect x="1072" y="765" width="61" height="40"/><rect x="1156" y="742" width="61" height="39"/><rect x="851" y="850" width="58" height="28"/><rect x="945" y="835" width="42" height="18"/><rect x="1012" y="853" width="24" height="32" rx="3"/></g>
<path d="M910 765L1010 700M1025 850V790M1085 720L1103 755M1130 720L1150 750M1185 795L1232 845M900 848L925 815" stroke="#c94a2e" stroke-width="2" fill="none"/>
<path d="M920 878H1003M1040 862L1065 850M1095 850L1170 842M1205 855L1235 865" stroke="#b38a50" stroke-width="2" fill="none"/>
<path d="M1068 850Q1078 830 1088 850Q1085 862 1078 862Q1068 862 1068 850ZM1175 835H1210M1192 825V872M1108 870H1125L1132 860L1138 885L1145 870H1158M1240 858H1280L1272 880H1244Z" fill="none" stroke="#222" stroke-width="2"/>
</g>
<!-- street photo -->
<g transform="translate(2280 575) scale(.3333)">
<rect x="35" y="28" width="1263" height="682" fill="#77736f"/>
<rect x="35" y="28" width="160" height="580" fill="#4a403a"/><rect x="195" y="28" width="170" height="560" fill="#8c827c"/><rect x="365" y="28" width="95" height="500" fill="#736f6e"/><rect x="455" y="28" width="115" height="450" fill="#5b6670"/><rect x="570" y="28" width="75" height="400" fill="#6a6862"/>
<rect x="645" y="28" width="120" height="380" fill="#d4d8dc"/><ellipse cx="705" cy="150" rx="60" ry="28" fill="#a9afb5"/><ellipse cx="705" cy="240" rx="60" ry="20" fill="#a9afb5"/>
<rect x="765" y="28" width="85" height="370" fill="#8f9397"/><rect x="835" y="170" width="50" height="280" fill="#3a3e44"/><rect x="850" y="28" width="250" height="440" fill="#8a8782"/><rect x="1100" y="200" width="198" height="280" fill="#6f6d6a"/>
<rect x="218" y="125" width="45" height="60" fill="#333"/><rect x="220" y="30" width="40" height="25" fill="#333"/><rect x="195" y="280" width="80" height="35" fill="#c4525e"/><rect x="195" y="320" width="80" height="45" fill="#555"/><rect x="190" y="458" width="75" height="40" fill="#c4525e"/><path d="M315 290L390 340V310L315 320Z" fill="#c4525e"/>
<rect x="60" y="30" width="20" height="190" fill="#2d3a30"/><rect x="120" y="30" width="20" height="240" fill="#2d4a38"/><path d="M60 260H195V300H60ZM110 440H195V610H110Z" fill="#2a2624"/>
<path d="M400 120L430 140L420 235L395 205Z" fill="#273a66"/><path d="M365 130L395 210V125Z" fill="#8a3a42"/>
<ellipse cx="1095" cy="120" rx="230" ry="95" fill="#2e3628"/><ellipse cx="1180" cy="235" rx="130" ry="85" fill="#323b2b"/><ellipse cx="1000" cy="205" rx="85" ry="65" fill="#3a4432"/><ellipse cx="900" cy="410" rx="85" ry="60" fill="#364030"/><ellipse cx="1250" cy="330" rx="60" ry="70" fill="#323b2b"/>
<path d="M1090 250L1150 490M1180 230L1298 440" stroke="#1c1c1c" stroke-width="5" fill="none"/>
<path d="M1105 175L1298 200" stroke="#666" stroke-width="4" fill="none"/><rect x="1105" y="210" width="30" height="65" fill="#5a4a20"/><circle cx="1118" cy="225" r="14" fill="#e0452a"/>
<path d="M960 290L1015 310L990 345L960 330Z" fill="#a84a50"/><path d="M1030 250L1070 260L1050 285Z" fill="#a84a50"/>
<rect x="35" y="480" width="1263" height="130" fill="#55514e"/>
<path d="M35 710H1298V620L850 595L700 575L430 600L35 650Z" fill="#4f5257"/>
<path d="M35 610L430 600L200 660L60 680H35Z" fill="#7d7e80"/>
<g fill="#dedede"><path d="M190 705L250 680H310L260 708Z"/><path d="M285 705L340 672H390L340 705Z"/><path d="M372 703L430 671H470L430 703Z"/><path d="M475 700L510 670H555L525 700Z"/><path d="M565 698L585 670H637L630 698Z"/><path d="M663 698V670H725V698Z"/><path d="M745 670H795L815 698H765Z"/><path d="M825 672H878L903 694H855Z"/><path d="M910 674H965L1015 702H950Z"/><path d="M990 676H1050L1105 704H1040Z"/><path d="M1075 678H1130L1200 706H1130Z"/><path d="M850 600L975 672H950L840 610Z"/></g>
<g><rect x="445" y="530" width="100" height="80" rx="14" fill="#d9a521"/><rect x="555" y="535" width="55" height="60" rx="10" fill="#cf8a2a"/><rect x="620" y="525" width="70" height="65" rx="10" fill="#d9a521"/><rect x="715" y="525" width="65" height="50" rx="8" fill="#2c2c30"/><rect x="785" y="520" width="35" height="40" fill="#b56a2c"/><rect x="935" y="545" width="40" height="50" fill="#d9a521"/><rect x="985" y="520" width="110" height="90" rx="14" fill="#a9a9ad"/><rect x="1000" y="530" width="80" height="30" fill="#3a3a3e"/>
<path d="M105 580L150 560L175 690L150 695L130 640L100 680ZM870 550L895 550L905 650L880 610L855 650ZM1135 540L1165 540L1195 650L1180 700L1150 690ZM315 535H340V595H315Z" fill="#22252a"/><path d="M115 570L150 555L155 600L110 605Z" fill="#3a5a80"/></g>
<g fill="none" stroke-width="2"><rect x="92" y="540" width="93" height="160" stroke="#d02cd0"/><rect x="155" y="585" width="28" height="48" stroke="#b8e030"/><rect x="208" y="525" width="60" height="78" stroke="#d02cd0"/><rect x="287" y="525" width="25" height="75" stroke="#d02cd0"/><rect x="310" y="525" width="35" height="78" stroke="#d02cd0"/><rect x="350" y="525" width="40" height="80" stroke="#d02cd0"/><rect x="416" y="490" width="190" height="90" stroke="#d02cd0"/><rect x="441" y="510" width="118" height="107" stroke="#b8e030"/><rect x="547" y="530" width="72" height="72" stroke="#b8e030"/><rect x="612" y="518" width="80" height="80" stroke="#b8e030"/><rect x="712" y="515" width="72" height="62" stroke="#b8e030"/><rect x="775" y="518" width="48" height="48" stroke="#b8e030"/><rect x="855" y="535" width="58" height="123" stroke="#d02cd0"/><rect x="932" y="535" width="46" height="66" stroke="#b8e030"/><rect x="981" y="515" width="118" height="100" stroke="#b8e030"/><rect x="1110" y="535" width="60" height="145" stroke="#d02cd0"/><rect x="1130" y="535" width="80" height="170" stroke="#d02cd0"/><rect x="1202" y="530" width="32" height="80" stroke="#d02cd0"/><rect x="1238" y="528" width="36" height="88" stroke="#d02cd0"/><rect x="68" y="335" width="37" height="97" stroke="#3f72f0"/><rect x="428" y="398" width="20" height="47" stroke="#3f72f0"/><rect x="958" y="428" width="18" height="26" stroke="#3f72f0"/><rect x="1027" y="428" width="18" height="26" stroke="#3f72f0"/></g>
<circle cx="85" cy="350" r="13" fill="#e0452a"/>
<g fill="#3f72f0"><rect x="65" y="303" width="147" height="32"/><rect x="426" y="366" width="149" height="32"/><rect x="662" y="406" width="150" height="60"/><rect x="762" y="450" width="148" height="32"/><rect x="956" y="396" width="75" height="32"/><rect x="1027" y="396" width="146" height="32"/></g>
<g fill="#d02cd0"><rect x="90" y="512" width="95" height="30"/><rect x="208" y="495" width="250" height="32"/><rect x="853" y="505" width="80" height="30"/><rect x="1108" y="502" width="92" height="30"/><rect x="1202" y="496" width="96" height="32"/></g>
<rect x="414" y="456" width="57" height="32" fill="#d8229a"/>
<g fill="#b8e030"><rect x="442" y="480" width="72" height="30"/><rect x="546" y="500" width="50" height="30"/><rect x="612" y="488" width="50" height="30"/><rect x="712" y="486" width="46" height="30"/><rect x="772" y="482" width="72" height="30"/><rect x="932" y="505" width="46" height="30"/><rect x="980" y="482" width="76" height="32"/><rect x="152" y="554" width="120" height="30"/></g>
<g font-size="26" fill="#222"><text x="70" y="326">traffic light</text><text x="431" y="389">traffic light</text><text x="666" y="430">traffic light</text><text x="668" y="454">traffic light</text><text x="768" y="474">traffic light</text><text x="960" y="419">traffi</text><text x="1031" y="420">traffic light</text><text x="94" y="535">person</text><text x="210" y="518">perso</text><text x="288" y="519">person</text><text x="380" y="519">erson</text><text x="856" y="528">perso</text><text x="1112" y="525">person</text><text x="1204" y="519">person</text><text x="418" y="480">bus</text><text x="446" y="503">truck</text><text x="550" y="523">car</text><text x="616" y="511">car</text><text x="716" y="509">car</text><text x="776" y="505">truck</text><text x="936" y="528">car</text><text x="984" y="505">truck</text><text x="156" y="577">handbag</text></g>
</g>
<!-- map -->
<g transform="translate(1690 980) scale(.3333)">
<rect x="30" y="30" width="1195" height="668" fill="#f0efe6"/>
<g fill="#dedcd2"><rect x="200" y="250" width="270" height="110"/><rect x="540" y="130" width="170" height="210"/><rect x="610" y="400" width="370" height="200"/><rect x="400" y="410" width="190" height="130"/><rect x="330" y="60" width="140" height="110"/></g>
<g fill="#cfe3bd"><rect x="720" y="160" width="30" height="35"/><rect x="590" y="240" width="20" height="30"/><rect x="920" y="300" width="30" height="30"/><rect x="1000" y="440" width="40" height="30"/><rect x="890" y="640" width="30" height="30"/></g>
<path d="M335 490Q380 420 470 380Q560 340 640 365Q760 320 860 215Q960 150 1085 95L1125 110Q1000 200 900 265Q800 350 640 395Q540 395 470 395Q420 420 380 480Q340 520 335 560Z" fill="#a5cdec"/>
<path d="M420 585Q560 600 680 608Q800 620 880 598L1000 585L1000 600Q860 630 760 632Q640 630 540 615Q480 615 430 612Z" fill="#bcd9f0"/>
<rect x="575" y="625" width="135" height="60" fill="#e8d9ad"/>
<path d="M30 38L160 40L330 60L470 72L600 70L800 62L920 60M160 40L155 290L165 400L200 450M30 408H160M1050 100L1130 210L1135 300L1165 650L1180 695M1135 300H1225M700 610L770 625M1000 600L1060 620L1090 660L1165 670M330 650L470 650L470 698M600 80L610 170M470 30L460 70" stroke="#e2a64a" stroke-width="2.5" fill="none"/>
<path d="M800 700L980 370L1135 300M1000 250L1050 170M720 350H1130M940 400L960 690" stroke="#c8c8bf" stroke-width="1.5" fill="none"/>
<rect x="30" y="445" width="305" height="253" fill="#fff" fill-opacity=".92"/>
<path d="M160 408L200 445L340 590L440 650L560 610L680 605L690 565L650 572M337 68L350 210M337 68L463 68L463 162L590 150M310 207L470 210L450 352L407 355L407 292L143 292L165 400M590 160L630 400" stroke="#a84040" stroke-width="3.5" fill="none"/>
<path d="M590 150L780 145L800 60L1030 75L1085 100Q900 170 810 252L775 240L713 245L723 320L685 340L653 343M605 282L590 225L610 190M616 415L585 420L577 467L500 467L460 465L440 405L430 522L425 570L465 622M425 570L550 570L650 590L690 550L630 400L616 415" stroke="#5a94c8" stroke-width="3.5" fill="none"/>
<path d="M775 627L680 625L660 560L730 555L722 480L800 490L800 525L835 525L835 480L903 485L940 505L1085 510L1090 618L1020 605L860 625L775 627L782 683" stroke="#80c860" stroke-width="3.5" fill="none"/>
<path class="d" stroke="#7a1818" stroke-width="5" d="M143 292h.1M263 292h.1M318 292h.1M407 292h.1M407 355h.1M450 352h.1M470 225h.1M440 207h.1M363 211h.1M310 207h.1M337 68h.1M463 115h.1M463 162h.1M552 150h.1M590 160h.1"/>
<path class="d" stroke="#1e3ea8" stroke-width="5" d="M1085 100h.1M775 240h.1M713 245h.1M723 320h.1M685 340h.1M653 343h.1M605 282h.1M616 415h.1M577 467h.1M500 467h.1M440 405h.1M430 522h.1M550 570h.1M465 622h.1"/>
<path class="d" stroke="#2f7a20" stroke-width="5" d="M775 627h.1M782 683h.1M1085 520h.1M903 485h.1M835 480h.1M815 525h.1M722 480h.1M732 555h.1M660 530h.1"/>
<g font-size="23" fill="#8a2f2f" class="b"><text x="348" y="58">Stop 11</text><text x="422" y="98">Stop 12</text><text x="376" y="155">Stop 13</text><text x="548" y="140">Stop 14</text><text x="603" y="172">Stop 15</text><text x="214" y="200">Stop 10</text><text x="295" y="237">Stop 9</text><text x="382" y="200">Stop 8</text><text x="484" y="232">Stop 7</text><text x="198" y="276">Stop 2</text><text x="316" y="276">Stop 3</text><text x="422" y="297">Stop 4</text><text x="68" y="295">Stop 1</text><text x="328" y="362">Stop 5</text><text x="464" y="358">Stop 6</text></g>
<g font-size="23" fill="#5a7ea8"><text x="1097" y="105">Stop 6</text><text x="786" y="228">Stop 5</text><text x="717" y="270">Stop 4</text><text x="737" y="326">Stop 3</text><text x="696" y="370">Stop 2</text><text x="576" y="346">Stop 1</text><text x="618" y="286">Stop 8</text><text x="630" y="420">Stop 9</text><text x="348" y="407">Stop 12</text><text x="458" y="460">Stop 11</text><text x="586" y="490">Stop 10</text><text x="336" y="524">Stop 13</text><text x="560" y="600">Stop 15</text><text x="478" y="652">Stop 14</text></g>
<g font-size="23" fill="#4a8a3a"><text x="735" y="484">Stop 7</text><text x="836" y="472">Stop 5</text><text x="915" y="491">Stop 4</text><text x="1097" y="527">Stop 3</text><text x="827" y="533">Stop 6</text><text x="745" y="560">Stop 8</text><text x="670" y="534">Stop 9</text><text x="787" y="632">Stop 1</text><text x="795" y="690">Stop 2</text></g>
<text x="508" y="554" font-size="23" class="b">Warehouse</text>
<path d="M652 525Q668 525 668 542Q668 555 652 575Q636 555 636 542Q636 525 652 525Z" fill="#1c1c80"/><path d="M57 478Q73 478 73 497Q73 510 57 525Q41 510 41 497Q41 478 57 478Z" fill="#1c1c80"/>
<g font-size="15" fill="#555"><text x="116" y="465" class="b" font-size="18">Delivery Routes</text><text x="80" y="504">Warehouse</text><text x="80" y="548">Store</text><text x="80" y="574">Vehicle 1 Route</text><text x="80" y="600">Vehicle 2 Route</text><text x="80" y="625">Vehicle 3 Route</text><text x="66" y="648">0</text><text x="175" y="648">2</text><text x="290" y="648">4</text><text x="162" y="686">Miles</text></g>
<path d="M40 569H68M40 595H68M40 620H68" stroke-width="3.5" fill="none" stroke="#80c860"/><path d="M40 595H68" stroke-width="3.5" stroke="#5a94c8"/><path d="M40 620H68" stroke-width="3.5" stroke="#a84040"/><path d="M70 668H295M70 662V668M182 662V668M295 662V668" stroke="#555" stroke-width="1" fill="none"/>
</g>
<text x="1752" y="874" font-size="24" class="i" fill="#7f7f7f" textLength="289" lengthAdjust="spacingAndGlyphs">Source: <tspan text-decoration="underline">zhongyuanzhao.com</tspan></text>
<text x="1705" y="920" font-size="30" textLength="388" lengthAdjust="spacingAndGlyphs">Vehicle routing problems in</text>
<text x="1705" y="962" font-size="30" class="b" textLength="313" lengthAdjust="spacingAndGlyphs">distribution networks</text>
<text x="2215" y="909" font-size="30" textLength="521" lengthAdjust="spacingAndGlyphs">Resource allocation &amp; job scheduling</text>
<text x="2215" y="952" font-size="30" textLength="439" lengthAdjust="spacingAndGlyphs">in <tspan class="b">cloud, frog, edge computing</tspan></text>
<text x="1818" y="1239" font-size="24" class="i" fill="#7f7f7f" textLength="197" lengthAdjust="spacingAndGlyphs">Source: <tspan text-decoration="underline">caliper.com</tspan></text>
<text x="2336" y="1245" font-size="24" class="i" fill="#7f7f7f" textLength="231" lengthAdjust="spacingAndGlyphs">Source: <tspan text-decoration="underline">e-ziggurat.com</tspan></text>
<text x="2278" y="1009" font-size="14" class="b" textLength="52" lengthAdjust="spacingAndGlyphs">CLOUD</text><text x="2252" y="1028" font-size="13" fill="#444" textLength="78" lengthAdjust="spacingAndGlyphs">Data Centers</text>
<text x="2232" y="1090" font-size="14" class="b" textLength="30" lengthAdjust="spacingAndGlyphs">FOG</text><text x="2224" y="1108" font-size="13" fill="#444" textLength="40" lengthAdjust="spacingAndGlyphs">Nodes</text>
<text x="2170" y="1178" font-size="14" class="b" textLength="40" lengthAdjust="spacingAndGlyphs">EDGE</text><text x="2164" y="1196" font-size="13" fill="#444" textLength="47" lengthAdjust="spacingAndGlyphs">Devices</text>
<text x="2539" y="1017" font-size="13" class="b" fill="#5f8a72" textLength="63" lengthAdjust="spacingAndGlyphs">Thousands</text>
<text x="2619" y="1096" font-size="13" class="b" fill="#5f8a72" textLength="44" lengthAdjust="spacingAndGlyphs">Millions</text>
<text x="2679" y="1188" font-size="13" class="b" fill="#5f8a72" textLength="43" lengthAdjust="spacingAndGlyphs">Billions</text>

<!-- GNN vs -->
<rect x="1736" y="1264" width="936" height="48" fill="#000080"/>
<text x="1736" y="1303" font-size="37" fill="#fff" textLength="936" lengthAdjust="spacingAndGlyphs">Graph neural networks (GNNs) v.s. Distributed Algorithms</text>
<text x="1621" y="1353" font-size="36" fill="#4f6228" textLength="1108" lengthAdjust="spacingAndGlyphs">Both: Fast &amp; distributed execution; generalize to different topologies</text>
<text x="1669" y="1410" font-size="36" textLength="437" lengthAdjust="spacingAndGlyphs">GNN: learnable but poor in</text>
<text x="1669" y="1457" font-size="36" textLength="150" lengthAdjust="spacingAndGlyphs">encoding</text><text x="1827" y="1457" font-size="36" fill="#c00000" textLength="341" lengthAdjust="spacingAndGlyphs">relational constraints</text>
<text x="2296" y="1410" font-size="36" textLength="396" lengthAdjust="spacingAndGlyphs">Algorithm: valid solution</text>
<text x="2296" y="1457" font-size="36" textLength="54" lengthAdjust="spacingAndGlyphs">but</text><text x="2360" y="1457" font-size="36" fill="#c00000" textLength="321" lengthAdjust="spacingAndGlyphs">large optimality gap</text>
<text x="1685" y="1505" font-size="31" class="i b" fill="#70ad47" textLength="242" lengthAdjust="spacingAndGlyphs">Counter example</text>
<text x="1927" y="1505" font-size="31" class="i" fill="#70ad47" textLength="778" lengthAdjust="spacingAndGlyphs">: Maximum weighted independent set (MWIS) problem</text>
<text x="1685" y="1548" font-size="31" class="i" fill="#70ad47" textLength="659" lengthAdjust="spacingAndGlyphs">on a regular graph with identical node weights</text>
<use href="#cw" x="1722" y="1576"/><use href="#cw" x="2065" y="1576"/><use href="#cw" x="2254" y="1576"/><use href="#cr" x="2643" y="1576"/>
<g fill="#d9772b"><circle cx="2065" cy="1576" r="6"/><circle cx="2157" cy="1576" r="6"/><circle cx="2065" cy="1664" r="6"/><circle cx="2157" cy="1664" r="6"/><circle cx="2092" cy="1600" r="6"/><circle cx="2134" cy="1600" r="6"/><circle cx="2092" cy="1641" r="6"/><circle cx="2134" cy="1641" r="6"/></g>
<rect x="1872" y="1560" width="131" height="122" rx="22" fill="#5470be" stroke="#3c5596" stroke-width="2"/>
<text x="1937" y="1633" font-size="28" fill="#fff" text-anchor="middle">GNN</text>
<rect x="2394" y="1568" width="186" height="120" rx="24" fill="#d9d9d9" stroke="#4a66a8" stroke-width="2"/>
<text x="2487" y="1606" font-size="22" text-anchor="middle">Distributed</text><text x="2487" y="1637" font-size="22" text-anchor="middle">Algorithm</text><text x="2487" y="1666" font-size="22" text-anchor="middle">(Heuristic)</text>
<path d="M1831 1620H1871M2003 1620H2040M2353 1626H2393M2581 1627H2621" stroke="#4f71be" stroke-width="3.5" marker-end="url(#ab)" fill="none"/>
<text x="1708" y="1714" font-size="26" textLength="452" lengthAdjust="spacingAndGlyphs">Identical input → identical prediction</text>
<text x="2342" y="1717" font-size="26" textLength="295" lengthAdjust="spacingAndGlyphs">Rule-based, tie-breaking</text>
<text x="1755" y="1762" font-size="32" textLength="333" lengthAdjust="spacingAndGlyphs">Constraint violations</text>
<text x="2241" y="1764" font-size="32" textLength="425" lengthAdjust="spacingAndGlyphs">Always find valid solutions</text>
<rect x="2101" y="1720" width="69" height="84" fill="#fff"/>
<rect x="2106" y="1745" width="48" height="46" fill="#fff" stroke="#d1145a" stroke-width="4"/>
<path d="M2112 1752L2148 1786M2148 1752L2112 1786" stroke="#c8102e" stroke-width="9"/>
<rect x="2686" y="1714" width="83" height="84" fill="#fff"/>
<rect x="2708" y="1748" width="46" height="42" fill="#fff" stroke="#6fbf3b" stroke-width="4"/>
<path d="M2714 1762L2728 1782L2760 1732" fill="none" stroke="#6fbf3b" stroke-width="10"/>

<!-- APPROACH -->
<rect x="36" y="1811" width="2764" height="121" fill="#5570be" stroke="#4a64a8" stroke-width="2"/>
<text x="60" y="1901" font-size="80" fill="#ffd966" textLength="349" lengthAdjust="spacingAndGlyphs">Approach</text>
<text x="409" y="1901" font-size="80" fill="#fff">:</text>
<text x="457" y="1901" font-size="80" fill="#fff" textLength="476" lengthAdjust="spacingAndGlyphs">GDPG-Twin –</text>
<text x="954" y="1901" font-size="78" class="i" fill="#fff" textLength="1815" lengthAdjust="spacingAndGlyphs">a hybrid ML pipeline for distributed control in networks</text>

<text x="73" y="1985" font-size="36" class="b">1.</text>
<rect x="123" y="1943" width="368" height="54" fill="#bfbfbf"/>
<text x="123" y="1985" font-size="37" class="b" textLength="368" lengthAdjust="spacingAndGlyphs">Independent R-COP</text>
<text x="73" y="2039" font-size="37" textLength="640" lengthAdjust="spacingAndGlyphs">Optimize each instance individually</text>
<text x="73" y="2093" font-size="37" class="b" textLength="86" lengthAdjust="spacingAndGlyphs">Goal</text>
<text x="159" y="2093" font-size="37" textLength="150" lengthAdjust="spacingAndGlyphs">: reduce</text>
<text x="318" y="2093" font-size="37" fill="#4472c4" textLength="260" lengthAdjust="spacingAndGlyphs">optimality gap</text>
<text x="589" y="2093" font-size="37" textLength="421" lengthAdjust="spacingAndGlyphs">with minimal overhead</text>

<g transform="matrix(.893 0 0 .66 0 1800)">
<rect class="t" x="298" y="786" width="201" height="257" rx="45" ry="60"/>
<rect class="g" x="613" y="787" width="288" height="256" rx="45" ry="60"/>
<rect class="t" x="613" y="1155" width="288" height="256" rx="45" ry="60"/>
<rect x="1068" y="1053" width="87" height="76" rx="8" fill="#f4cdb0"/>
<path class="ln" d="M231 915H296" marker-end="url(#ab)"/><path class="ln" d="M499 915H610" marker-end="url(#ab)"/><path class="ln" d="M260 915V1283H610" marker-end="url(#ab)"/><path class="ln" d="M527 915V1283" marker-end="url(#ab)"/>
<path d="M516 575L680 598M528 768L575 832" stroke="#111" stroke-width="2" fill="none"/>
<path d="M978 816L1046 840M1033 1357L940 1457" stroke="#7d9bd0" stroke-width="1.5" fill="none"/>
<path class="e" d="M714 565L814 566L735 643L714 565M814 566L822 680L735 643L714 708L822 680M661 635L714 708"/>
<path class="d bn" d="M714 565h.1M814 566h.1M661 635h.1M735 643h.1M822 680h.1M714 708h.1"/>
<path class="bar" d="M705 480V540M831 525V558M636 603V627M713 603V648M845 635V692M696 725V755"/>
<path class="e" d="M99 842L200 844L121 920L99 842M200 844L208 958L121 920L99 986L208 958M47 913L99 986"/>
<path class="d bn" d="M99 842h.1M200 844h.1M47 913h.1M121 920h.1M208 958h.1M99 986h.1"/>
<path class="e" d="M1061 853L1162 855L1084 932L1061 853M1162 855L1170 967L1084 932L1061 997L1170 967M1011 925L1061 997"/>
<path class="d bn" d="M1061 853h.1M1011 925h.1M1170 967h.1"/><path class="d o1" d="M1162 855h.1M1084 932h.1M1061 997h.1"/><path class="d" stroke="#dfe8f5" stroke-width="8" d="M1162 855h.1M1084 932h.1M1061 997h.1"/>
<ellipse class="rc" cx="1061" cy="853" rx="15" ry="21"/><ellipse class="rc" cx="1011" cy="925" rx="15" ry="21"/><ellipse class="rc" cx="1170" cy="967" rx="15" ry="21"/>
<path class="e" d="M1062 1211L1165 1215L1086 1292L1062 1211M1165 1215L1175 1332L1086 1292L1065 1357L1175 1332M1006 1275L1065 1357"/>
<path class="d bn" d="M1062 1211h.1M1165 1215h.1M1086 1292h.1M1175 1332h.1M1065 1357h.1"/><path class="d" stroke="#4d6db5" stroke-width="23" d="M1006 1275h.1"/>
</g>
<use href="#ga" x="805" y="2402"/><use href="#ga" x="805" y="2645"/>
<use href="#ga" transform="translate(679 2278) rotate(90) scale(.7)"/>
<path d="M540 2595H512Q493 2595 493 2575V2565" fill="none" stroke="#5aa5e6" stroke-width="13"/><path d="M493 2549L477 2567H509Z" fill="#5aa5e6"/>
<path d="M868 2597H824" stroke="#5aa5e6" stroke-width="11"/><path d="M808 2597L826 2582V2612Z" fill="#5aa5e6"/>
<text x="271" y="2175" font-size="26" textLength="178" lengthAdjust="spacingAndGlyphs">Instantaneous</text><text x="271" y="2211" font-size="26" textLength="173" lengthAdjust="spacingAndGlyphs">network state</text>
<rect x="203" y="2230" width="280" height="42" fill="#000080"/><text x="203" y="2265" font-size="29" fill="#fff" textLength="280" lengthAdjust="spacingAndGlyphs">Intermediate action</text>
<text x="320" y="2298" font-size="26" textLength="223" lengthAdjust="spacingAndGlyphs">Policy parameters</text>
<text x="500" y="2391" font-size="52" class="b se">Z</text>
<text x="775" y="2264" font-size="36" class="se i" textLength="115" lengthAdjust="spacingAndGlyphs">(V, E, c)</text>
<text x="931" y="2261" font-size="30" class="se b" textLength="83" lengthAdjust="spacingAndGlyphs">c~Ωᶜ</text>
<rect x="821" y="2290" width="254" height="42" fill="#000080"/><text x="821" y="2325" font-size="29" fill="#fff" textLength="254" lengthAdjust="spacingAndGlyphs">Discrete decisions</text>
<text x="356" y="2397" font-size="27" fill="#fff" text-anchor="middle">Actor</text><text x="356" y="2434" font-size="27" fill="#fff" text-anchor="middle">(GNN)</text>
<text x="674" y="2366" font-size="27" text-anchor="middle" textLength="182" lengthAdjust="spacingAndGlyphs">Parameterized</text><text x="676" y="2402" font-size="27" text-anchor="middle">Heuristic</text><text x="676" y="2434" font-size="21" text-anchor="middle" textLength="192" lengthAdjust="spacingAndGlyphs">(non-differentiable)</text>
<text x="818" y="2389" font-size="34" class="b se">x</text>
<rect x="652" y="2492" width="187" height="42" fill="#000080"/><text x="652" y="2526" font-size="29" fill="#fff" textLength="187" lengthAdjust="spacingAndGlyphs">Loss function</text>
<text x="853" y="2527" font-size="30" class="se i" fill="#222" textLength="189" lengthAdjust="spacingAndGlyphs">ℓmse(ô, <tspan class="b" fill="#843c0c">c ⊙ x</tspan>)</text>
<text x="496" y="2539" font-size="36" class="se" fill="#6db5ec" textLength="104" lengthAdjust="spacingAndGlyphs">∇z1ᵀô</text>
<text x="808" y="2574" font-size="26" fill="#6db5ec" textLength="109" lengthAdjust="spacingAndGlyphs">Gradient</text>
<text x="826" y="2633" font-size="32" class="se b">ô</text>
<text x="676" y="2640" font-size="27" fill="#fff" text-anchor="middle">Twin</text><text x="676" y="2676" font-size="27" fill="#fff" text-anchor="middle">(GNN)</text>
<text x="61" y="2509" font-size="36" class="se i" textLength="121" lengthAdjust="spacingAndGlyphs">(V, E, c̄)</text>
<text x="60" y="2561" font-size="26" textLength="137" lengthAdjust="spacingAndGlyphs">Underlying</text><text x="59" y="2599" font-size="26" textLength="111" lengthAdjust="spacingAndGlyphs">topology</text>
<rect x="87" y="2661" width="72" height="43" fill="#000080"/><text x="87" y="2694" font-size="29" fill="#fff" textLength="72" lengthAdjust="spacingAndGlyphs">State</text>
<text x="371" y="2699" font-size="36" class="se i" textLength="135" lengthAdjust="spacingAndGlyphs">V, E, c̄, <tspan class="b">Z</tspan></text>
<text x="37" y="2774" font-size="28" textLength="506" lengthAdjust="spacingAndGlyphs">Low overhead: actor runs only once</text><text x="37" y="2816" font-size="28" textLength="380" lengthAdjust="spacingAndGlyphs">for N similar COP instances</text>
<rect x="595" y="2764" width="477" height="42" fill="#000080"/><text x="595" y="2798" font-size="29" fill="#fff" textLength="477" lengthAdjust="spacingAndGlyphs">Element-wise expected outcomes</text>

<!-- second column approach -->
<text x="1559" y="1985" font-size="36" class="b">2.</text>
<rect x="1605" y="1942" width="505" height="55" fill="#bfbfbf"/>
<text x="1605" y="1985" font-size="37" class="b" textLength="505" lengthAdjust="spacingAndGlyphs">R-COP in graph-based MDP</text>
<text x="1559" y="2039" font-size="37" textLength="809" lengthAdjust="spacingAndGlyphs">Inter-state dependency MUST be considered</text>
<text x="1559" y="2094" font-size="37" class="b" textLength="85" lengthAdjust="spacingAndGlyphs">Goal</text><text x="1644" y="2094" font-size="37" textLength="163" lengthAdjust="spacingAndGlyphs">: achieve</text>
<text x="1817" y="2094" font-size="37" fill="#4472c4" textLength="179" lengthAdjust="spacingAndGlyphs">long-term</text>
<text x="2007" y="2094" font-size="37" textLength="401" lengthAdjust="spacingAndGlyphs">system-level objective</text>
<rect x="1100" y="2170" width="542" height="451" fill="#e3efd9"/>
<rect x="1109" y="2175" width="225" height="54" fill="#4f7f1f"/>
<text x="1109" y="2216" font-size="37" fill="#fff" textLength="225" lengthAdjust="spacingAndGlyphs">Key features</text>
<g font-size="34"><text x="1110" y="2265">1.</text><text x="1159" y="2265" textLength="467" lengthAdjust="spacingAndGlyphs">All distributable components</text>
<text x="1159" y="2314" textLength="374" lengthAdjust="spacingAndGlyphs">(Actor, Critic, Heuristic)</text>
<text x="1110" y="2362">2.</text><text x="1159" y="2362" textLength="411" lengthAdjust="spacingAndGlyphs">Pipeline can generalize to</text>
<text x="1159" y="2410" textLength="464" lengthAdjust="spacingAndGlyphs">different network topologies</text>
<text x="1110" y="2458" class="b">3.</text><text x="1159" y="2458" class="b" textLength="435" lengthAdjust="spacingAndGlyphs">Constraints guaranteed by</text>
<text x="1159" y="2505" class="b" textLength="208" lengthAdjust="spacingAndGlyphs">the heuristic</text>
<text x="1110" y="2554">4.</text><text x="1159" y="2554" textLength="423" lengthAdjust="spacingAndGlyphs">Future returns encoded in</text>
<text x="1159" y="2601" textLength="465" lengthAdjust="spacingAndGlyphs">cost vector input to heuristic</text></g>
<rect x="1109" y="2642" width="1611" height="160" fill="#e1e7f5" stroke="#4f6aa8" stroke-width="2"/>
<rect x="1119" y="2647" width="209" height="53" fill="#000080"/>
<text x="1119" y="2688" font-size="38" fill="#fff" textLength="209" lengthAdjust="spacingAndGlyphs">Key novelty</text>
<text x="1119" y="2737" font-size="33" class="i" textLength="160" lengthAdjust="spacingAndGlyphs">1. Defines</text>
<text x="1288" y="2737" font-size="33" class="i b" textLength="738" lengthAdjust="spacingAndGlyphs">vectorized (element-wise) reward and return</text>
<text x="2036" y="2737" font-size="33" class="i" textLength="323" lengthAdjust="spacingAndGlyphs">for network settings</text>
<text x="1119" y="2786" font-size="33" class="i" textLength="308" lengthAdjust="spacingAndGlyphs">2. Critic based on a</text>
<text x="1436" y="2786" font-size="33" class="i b" textLength="222" lengthAdjust="spacingAndGlyphs">twin network</text>
<text x="1668" y="2786" font-size="33" class="i" textLength="880" lengthAdjust="spacingAndGlyphs">that predicts element-wise expected returns/outcomes</text>

<g transform="matrix(1.122 0 0 .596 1080 1900)">
<rect class="t" x="757" y="548" width="155" height="277" rx="36" ry="60"/>
<rect class="g" x="987" y="548" width="224" height="276" rx="36" ry="60"/>
<rect class="t" x="987" y="946" width="224" height="276" rx="36" ry="60"/>
<rect x="1302" y="832" width="183" height="83" rx="8" fill="#f4cdb0"/>
<path class="ln" d="M706 688H755" marker-end="url(#ab)"/><path class="ln" d="M912 688H984" marker-end="url(#ab)"/><path class="ln" d="M730 688V1084H984" marker-end="url(#ab)"/><path class="ln" d="M932 688V1084"/>
<path d="M863 440L935 625M1332 553L1368 610M1352 1150L1310 1212" stroke="#7d9bd0" stroke-width="1.5" fill="none"/>
<path class="e" d="M595 636L672 638L612 720L595 636M672 638L679 762L612 720L595 791L679 762M555 714L595 791"/>
<path class="d bn" d="M595 636h.1M672 638h.1M555 714h.1M612 720h.1M679 762h.1M595 791h.1"/>
<path class="bar" d="M588 543V610M686 593V628M534 678V704M595 678V726M695 714V776M580 808V842"/>
<path class="e" d="M1382 620L1460 622L1400 703L1382 620M1460 622L1466 742L1400 703L1382 773L1466 742M1343 697L1382 773"/>
<path class="d bn" d="M1382 620h.1M1343 697h.1M1466 742h.1"/><path class="d o1" d="M1460 622h.1M1400 703h.1M1382 773h.1"/><path class="d" stroke="#dfe8f5" stroke-width="8" d="M1460 622h.1M1400 703h.1M1382 773h.1"/>
<ellipse class="rc" cx="1382" cy="620" rx="11" ry="23"/><ellipse class="rc" cx="1343" cy="697" rx="11" ry="23"/><ellipse class="rc" cx="1466" cy="742" rx="11" ry="23"/>
<path class="e" d="M1384 1014L1464 1018L1403 1102L1384 1014M1464 1018L1471 1145L1403 1102L1386 1172L1471 1145M1341 1082L1386 1172"/>
<path class="d bn" d="M1384 1014h.1M1464 1018h.1M1403 1102h.1M1471 1145h.1M1386 1172h.1"/><path class="d" stroke="#4d6db5" stroke-width="23" d="M1341 1082h.1"/>
</g>
<use href="#ga" x="2440" y="2308"/><use href="#ga" x="2440" y="2546"/>
<path d="M2187 2499H2160Q2142 2499 2142 2480V2468" fill="none" stroke="#5aa5e6" stroke-width="13"/><path d="M2142 2451L2127 2469H2157Z" fill="#5aa5e6"/>
<path d="M2497 2496H2456" stroke="#5aa5e6" stroke-width="11"/><path d="M2440 2496L2458 2481V2511Z" fill="#5aa5e6"/>
<rect x="1795" y="2119" width="279" height="42" fill="#000080"/><text x="1795" y="2153" font-size="29" fill="#fff" textLength="279" lengthAdjust="spacingAndGlyphs">Intermediate action</text>
<text x="2088" y="2156" font-size="27" textLength="282" lengthAdjust="spacingAndGlyphs">cost vector encodes</text><text x="2378" y="2156" font-size="27" class="b" textLength="357" lengthAdjust="spacingAndGlyphs">discounted future return</text>
<text x="2060" y="2212" font-size="30" class="se i" fill="#333" textLength="195" lengthAdjust="spacingAndGlyphs">(V(t), E(t), c(t))</text>
<rect x="2476" y="2179" width="253" height="43" fill="#000080"/><text x="2476" y="2214" font-size="29" fill="#fff" textLength="253" lengthAdjust="spacingAndGlyphs">Discrete decisions</text>
<text x="2016" y="2304" font-size="27" fill="#fff" text-anchor="middle">Actor</text><text x="2016" y="2338" font-size="27" fill="#fff" text-anchor="middle">(GNN)</text>
<text x="2313" y="2305" font-size="27" text-anchor="middle">Heuristic</text><text x="2313" y="2335" font-size="21" class="i" text-anchor="middle" textLength="186" lengthAdjust="spacingAndGlyphs">(non-differentiable)</text>
<text x="2313" y="2529" font-size="27" fill="#fff" text-anchor="middle">Twin</text><text x="2313" y="2565" font-size="27" fill="#fff" text-anchor="middle">(GNN)</text>
<text x="2114" y="2293" font-size="30" class="se"><tspan class="b">c</tspan>(<tspan class="i">t</tspan>)</text>
<text x="2502" y="2315" font-size="30" class="se"><tspan class="b">x</tspan>(<tspan class="i">t</tspan>)</text>
<rect x="2413" y="2353" width="187" height="42" fill="#000080"/><text x="2413" y="2387" font-size="29" fill="#fff" textLength="187" lengthAdjust="spacingAndGlyphs">Loss function</text>
<text x="2406" y="2429" font-size="30" class="se i" fill="#222" textLength="353" lengthAdjust="spacingAndGlyphs">ℓmse(ô(t), <tspan fill="#843c0c">r(t) + γô(t + 1)</tspan>)</text>
<text x="2140" y="2439" font-size="32" class="se i" fill="#9fd0f5" textLength="230" lengthAdjust="spacingAndGlyphs">∇c(t) fobj(ô(1))</text>
<text x="2456" y="2481" font-size="25" fill="#6db5ec" textLength="106" lengthAdjust="spacingAndGlyphs">Gradient</text>
<text x="2503" y="2554" font-size="30" class="se">ô(<tspan class="i">t</tspan>)</text>
<text x="1678" y="2436" font-size="30" class="se i" fill="#333" textLength="203" lengthAdjust="spacingAndGlyphs">(V(t), E(t), S(t))</text>
<text x="1689" y="2498" font-size="25" textLength="174" lengthAdjust="spacingAndGlyphs">Instantaneous</text><text x="1689" y="2533" font-size="25" textLength="169" lengthAdjust="spacingAndGlyphs">network state</text>
<rect x="1742" y="2550" width="72" height="42" fill="#000080"/><text x="1742" y="2584" font-size="29" fill="#fff" textLength="72" lengthAdjust="spacingAndGlyphs">State</text>
<text x="1944" y="2587" font-size="28" class="se i" fill="#333" textLength="211" lengthAdjust="spacingAndGlyphs">V(t),E(t),S(t),c(t)</text>
<rect x="2318" y="2629" width="439" height="43" fill="#000080"/><text x="2318" y="2663" font-size="29" fill="#fff" textLength="439" lengthAdjust="spacingAndGlyphs">Element-wise expected returns</text>

<!-- TEST RESULTS -->
<rect x="2831" y="295" width="2005" height="120" fill="#5570be"/>
<rect x="4836" y="363" width="189" height="52" fill="#5570be"/>
<text x="3715" y="384" font-size="84" fill="#fff" textLength="143" lengthAdjust="spacingAndGlyphs">Test</text>
<text x="3885" y="384" font-size="84" fill="#ffd966" textLength="252" lengthAdjust="spacingAndGlyphs">Results</text>
<rect x="2831" y="425" width="2194" height="1492" fill="#fff" stroke="#4c66a8" stroke-width="5"/>
<rect x="2837" y="430" width="472" height="61" fill="#000080"/>
<text x="2837" y="478" font-size="46" class="b" fill="#fff" textLength="472" lengthAdjust="spacingAndGlyphs">Independent R-COP</text>
<text x="3406" y="477" font-size="36" class="i" textLength="666" lengthAdjust="spacingAndGlyphs">Maximum Weighted Independent Set</text>
<use href="#cr" transform="translate(4352 432) scale(.5)"/><use href="#cr" transform="translate(4420 432) scale(.5)"/><use href="#cr" transform="translate(4488 432) scale(.5)"/>
<use href="#cr" transform="translate(4352 499) scale(.5)"/><use href="#cr" transform="translate(4420 499) scale(.5)"/><use href="#cr" transform="translate(4488 499) scale(.5)"/>
<text x="3280" y="544" font-size="37" textLength="364" lengthAdjust="spacingAndGlyphs">Approximation ratio</text>
<text x="3859" y="547" font-size="37" textLength="480" lengthAdjust="spacingAndGlyphs">Execution local complexity</text>
<text x="4545" y="540" font-size="37" textLength="352" lengthAdjust="spacingAndGlyphs">Training complexity</text>
<text x="2855" y="601" font-size="36" class="i" textLength="255" lengthAdjust="spacingAndGlyphs">Tested on four</text>
<text x="2855" y="649" font-size="36" class="i" textLength="295" lengthAdjust="spacingAndGlyphs">different R-COPs</text>

<g transform="matrix(1.416 0 0 .7015 2820 0)">
<!-- chart 1 -->
<path class="gr" d="M295 872H625M295 929H625M295 986H625M295 1043H625M295 1100H625M295 1157H625M295 1214H625M310 800V1242M385 800V1242M460 800V1242M535 800V1242M610 800V1242"/>
<rect x="295" y="800" width="330" height="442" fill="none" stroke="#333" stroke-width="2"/>
<path d="M295 815H625" stroke="#111" stroke-width="4"/>
<path d="M400 850L440 815M428 970L455 998M490 1105L478 1130" stroke="#222" stroke-width="1.5" fill="none"/>
<polyline class="l" stroke="#4c72b0" stroke-width="3.5" points="310,1000 385,1012 460,997 535,1017 610,1017"/>
<polyline class="l" stroke="#dd8452" stroke-width="3.5" stroke-dasharray="8 4" points="310,997 385,1008 460,1003 535,1024 610,1012"/>
<polyline class="l" stroke="#55a868" stroke-width="3.5" stroke-dasharray="3 3" points="310,1017 385,1018 460,1015 535,1033 610,1025"/>
<polyline class="l" stroke="#c44e52" stroke-width="3.5" stroke-dasharray="8 3 2 3" points="310,1078 385,1066 460,1066 535,1085 610,1102"/>
<polyline class="l" stroke="#8172b3" stroke-width="3.5" stroke-dasharray="8 3 2 3" points="310,1120 385,1093 460,1087 535,1113 610,1122"/>
<path class="d" stroke="#4c72b0" stroke-width="11" d="M310 1000h.1M385 1012h.1M460 997h.1M535 1017h.1M610 1017h.1"/>
<path class="d" stroke="#dd8452" stroke-width="10" d="M310 997h.1M385 1008h.1M460 1003h.1M535 1024h.1M610 1012h.1"/>
<path class="q" stroke="#55a868" stroke-width="8" d="M310 1017h.1M385 1018h.1M460 1015h.1M535 1033h.1M610 1025h.1"/>
<path class="d" stroke="#c44e52" stroke-width="9" d="M310 1078h.1M385 1066h.1M460 1066h.1M535 1085h.1M610 1102h.1"/>
<path class="d" stroke="#8172b3" stroke-width="10" d="M310 1120h.1M385 1093h.1M460 1087h.1M535 1113h.1M610 1122h.1"/>
<rect x="472" y="815" width="150" height="160" fill="#fff" fill-opacity=".8"/>
<path stroke-width="3" fill="none" stroke="#4c72b0" d="M477 829H498"/><path stroke-width="3" fill="none" stroke="#dd8452" stroke-dasharray="6 3" d="M477 860H498"/><path stroke-width="3" fill="none" stroke="#55a868" stroke-dasharray="3 3" d="M477 891H498"/><path stroke-width="3" fill="none" stroke="#c44e52" stroke-dasharray="6 3" d="M477 923H498"/><path stroke-width="3" fill="none" stroke="#8172b3" stroke-dasharray="6 3" d="M477 955H498"/>
<!-- 3-layer -->
<rect class="t" x="47" y="1213" width="68" height="77" rx="9"/><rect x="131" y="1213" width="84" height="77" rx="9" fill="#d9d9d9" stroke="#4a66a8" stroke-width="2"/>
<path d="M28 1252H47M115 1252H131M215 1252H235" stroke="#4f71be" stroke-width="2" marker-end="url(#ab)" fill="none"/>
<!-- chart 2 -->
<path class="gr" d="M735 895H1090M735 984H1090M735 1072H1090M735 1161H1090M752 805V1248M832 805V1248M913 805V1248M993 805V1248M1074 805V1248"/>
<path d="M735 805V1248H1090M735 805H1090" fill="none" stroke="#333" stroke-width="2"/>
<path d="M862 910L890 938M870 972L898 1008" stroke="#222" stroke-width="1.5" fill="none"/>
<polyline class="l" stroke="#4c72b0" stroke-width="4" points="752,980 832,972 913,954 993,946 1074,931"/>
<polyline class="l" stroke="#ee8a2c" stroke-width="4" points="752,967 832,948 913,938 993,932 1074,924"/>
<path class="d" stroke="#4c72b0" stroke-width="11" d="M752 980h.1M832 972h.1M913 954h.1M993 946h.1M1074 931h.1"/>
<path class="d" stroke="#ee8a2c" stroke-width="9" d="M752 967h.1M832 948h.1M913 938h.1M993 932h.1M1074 924h.1"/>
<rect x="947" y="818" width="138" height="80" fill="#fff" fill-opacity=".85"/>
<path d="M955 840H980" stroke="#4c72b0" stroke-width="3"/><path d="M955 876H980" stroke="#ee8a2c" stroke-width="3"/>
<path class="d" stroke="#4c72b0" stroke-width="8" d="M967 840h.1"/><path class="d" stroke="#ee8a2c" stroke-width="8" d="M967 876h.1"/>
<!-- chart 3 -->
<path class="gr" d="M1205 830H1545M1205 881H1545M1205 932H1545M1205 983H1545M1205 1034H1545M1205 1085H1545M1205 1135H1545M1205 1186H1545M1205 1237H1545"/>
<path d="M1205 805V1262H1545" fill="none" stroke="#333" stroke-width="2"/><path d="M1205 805H1545" stroke="#333" stroke-width="1.5"/>
<polyline class="l" stroke="#e9c69c" stroke-width="1.5" stroke-dasharray="2 2" points="1205,1130 1215,1060 1225,1090 1235,980 1245,1050 1255,960 1265,1000 1275,890 1285,1010 1295,880 1305,1040 1315,900 1325,1000 1340,960 1350,1060 1365,910 1375,830 1385,1040 1400,960 1415,1020 1430,880 1445,1050 1460,900 1475,1020 1490,860 1505,1030 1520,850 1535,1060 1545,870"/>
<polyline class="l" stroke="#a8d08d" stroke-width="1.5" stroke-dasharray="2 2" points="1205,1240 1215,1200 1230,1120 1245,1080 1260,1100 1275,1010 1290,1040 1310,980 1330,1030 1360,960 1400,990 1440,960 1480,1000 1520,980 1545,1020"/>
<polyline class="l" stroke="#8fb8da" stroke-width="1.5" points="1205,1240 1208,1000 1214,1100 1220,905 1225,1050 1230,860 1235,990 1240,880 1246,1000 1250,900 1256,980"/>
<polyline class="l" stroke="#4c7fb0" stroke-width="3" points="1205,1240 1208,1100 1212,1020 1216,985 1220,1000 1224,965 1228,985 1232,960 1236,970 1240,950 1244,965 1248,952 1252,962 1256,955 1258,965"/>
<polyline class="l" stroke="#e08a3c" stroke-width="2.5" points="1205,1120 1215,1090 1225,1060 1235,1030 1245,1000 1255,990 1265,975 1275,950 1285,962 1295,985 1305,975 1315,950 1325,968 1335,985 1345,975 1355,970 1365,985 1375,975 1385,985 1395,975 1405,980 1425,982 1445,965 1465,965 1485,965 1505,960 1525,968 1545,975"/>
<polyline class="l" stroke="#5aa83c" stroke-width="2.5" points="1205,1240 1225,1130 1240,1060 1255,1030 1270,1015 1285,1005 1300,1003 1320,1000 1325,975 1345,972 1352,952 1365,970 1395,978 1420,978 1435,960 1465,958 1500,958 1525,968 1545,955"/>
<rect x="1220" y="827" width="134" height="70" rx="8" fill="#fff" stroke="#6f9fdc" stroke-width="2.5"/>
<path d="M1250 897L1275 897L1240 958Z" fill="#fff" stroke="#6f9fdc" stroke-width="1.5"/>
<rect x="1378" y="850" width="82" height="68" rx="6" fill="#fff" stroke="#e07b28" stroke-width="2.5"/>
<path d="M1378 890L1320 950L1378 912" fill="#fff" stroke="#e07b28" stroke-width="1.5"/>
<rect x="1262" y="1095" width="278" height="150" fill="#fff" fill-opacity=".85"/>
<path d="M1262 1152H1288" stroke="#3f6f9f" stroke-width="3"/><path d="M1262 1188H1288" stroke="#e08a3c" stroke-width="3"/><path d="M1262 1225H1288" stroke="#5aa83c" stroke-width="3"/><path d="M1438 1152H1464" stroke="#999" stroke-width="2" stroke-dasharray="2 2"/><path d="M1438 1188H1464" stroke="#111" stroke-width="3"/>
</g>
<g class="dj" font-size="19" fill="#333">
<text x="3191" y="579" textLength="38" lengthAdjust="spacingAndGlyphs">1.00</text><text x="3191" y="618" textLength="38" lengthAdjust="spacingAndGlyphs">0.98</text><text x="3191" y="658" textLength="38" lengthAdjust="spacingAndGlyphs">0.96</text><text x="3191" y="698" textLength="38" lengthAdjust="spacingAndGlyphs">0.94</text><text x="3191" y="738" textLength="38" lengthAdjust="spacingAndGlyphs">0.92</text><text x="3191" y="778" textLength="38" lengthAdjust="spacingAndGlyphs">0.90</text><text x="3191" y="818" textLength="38" lengthAdjust="spacingAndGlyphs">0.88</text><text x="3191" y="858" textLength="38" lengthAdjust="spacingAndGlyphs">0.86</text>
<text x="3240" y="892">100</text><text x="3346" y="892">150</text><text x="3452" y="892">200</text><text x="3558" y="892">250</text><text x="3664" y="892">300</text>
<text x="3423" y="914" textLength="95" lengthAdjust="spacingAndGlyphs">Graph Size</text>
<text transform="translate(3180 835) rotate(-90)" font-size="17" textLength="239" lengthAdjust="spacingAndGlyphs">Approx. Ratio w.r.t. Optimal</text>
<text x="3538" y="587" font-size="17" textLength="152" lengthAdjust="spacingAndGlyphs">GCNN(3)-LGS-adhoc</text><text x="3538" y="609" font-size="17" textLength="140" lengthAdjust="spacingAndGlyphs">GCNN(3)-LGS-Twin</text><text x="3538" y="631" font-size="17" textLength="140" lengthAdjust="spacingAndGlyphs">GCNN(3)-LGS-ZOO</text><text x="3538" y="653" font-size="17" textLength="140" lengthAdjust="spacingAndGlyphs">MP [Paschalidis15]</text><text x="3538" y="675" font-size="17" textLength="90" lengthAdjust="spacingAndGlyphs">LGS [Joo12]</text>
<text x="3848" y="570" font-size="15">5</text><text x="3848" y="632" font-size="15">4</text><text x="3848" y="694" font-size="15">3</text><text x="3848" y="757" font-size="15">2</text><text x="3848" y="819" font-size="15">1</text><text x="3848" y="880" font-size="15">0</text>
<text x="3872" y="897" font-size="16">100</text><text x="3986" y="897" font-size="16">150</text><text x="4100" y="897" font-size="16">200</text><text x="4214" y="897" font-size="16">250</text><text x="4328" y="897" font-size="16">300</text>
<text x="4066" y="915" textLength="95" lengthAdjust="spacingAndGlyphs">Graph Size</text>
<text transform="translate(3838 868) rotate(-90)" font-size="17" textLength="293" lengthAdjust="spacingAndGlyphs">Local Communication Complexity</text>
<text x="4222" y="594" font-size="21" textLength="128" lengthAdjust="spacingAndGlyphs">GCNN(3)+LGS</text><text x="4222" y="619" font-size="21" textLength="98" lengthAdjust="spacingAndGlyphs">Vanilla LGS</text>
<g font-size="16"><text x="4488" y="588">1.07</text><text x="4488" y="624">1.06</text><text x="4488" y="660">1.05</text><text x="4488" y="695">1.04</text><text x="4488" y="731">1.03</text><text x="4488" y="767">1.02</text><text x="4488" y="802">1.01</text><text x="4488" y="838">1.00</text><text x="4488" y="873">0.99</text></g>
<g font-size="15"><text x="4522" y="903">0</text><text x="4566" y="903">5000</text><text x="4622" y="903">10000</text><text x="4682" y="903">15000</text><text x="4742" y="903">20000</text><text x="4802" y="903">25000</text><text x="4862" y="903">30000</text><text x="4922" y="903">35000</text></g>
<text x="4686" y="924" textLength="162" lengthAdjust="spacingAndGlyphs">Evaluations of h(·)</text>
<text transform="translate(4478 875) rotate(-90)" font-size="17" textLength="301" lengthAdjust="spacingAndGlyphs">Approx. Ratio to Vanilla LGS-MWIS</text>
<text x="4656" y="787" font-size="20">train</text><text x="4656" y="813" font-size="20" textLength="165" lengthAdjust="spacingAndGlyphs">GDPG-Twin-1 point</text><text x="4656" y="839" font-size="20" textLength="130" lengthAdjust="spacingAndGlyphs">ZOO-2 points</text><text x="4656" y="865" font-size="20" textLength="130" lengthAdjust="spacingAndGlyphs">ZOO-11 points</text>
<text x="4904" y="787" font-size="20">type</text><text x="4904" y="813" font-size="20" textLength="70" lengthAdjust="spacingAndGlyphs">Training</text><text x="4904" y="839" font-size="20" textLength="88" lengthAdjust="spacingAndGlyphs">Validation</text>
</g>
<text x="3282" y="603" font-size="30" class="i" textLength="105" lengthAdjust="spacingAndGlyphs">Optimal</text>
<text x="3300" y="677" font-size="30" class="i" textLength="126" lengthAdjust="spacingAndGlyphs">Enhanced</text>
<text x="3459" y="815" font-size="30" class="i" textLength="107" lengthAdjust="spacingAndGlyphs">Baseline</text>
<text x="3258" y="859" font-size="29" fill="#7f7f7f" textLength="210" lengthAdjust="spacingAndGlyphs">(Larger is better)</text>
<text x="3927" y="636" font-size="30" class="i" textLength="107" lengthAdjust="spacingAndGlyphs">Baseline</text>
<text x="4084" y="737" font-size="30" class="i" textLength="126" lengthAdjust="spacingAndGlyphs">Enhanced</text>
<text x="4084" y="774" font-size="30" class="i" textLength="200" lengthAdjust="spacingAndGlyphs">w/ high reusing</text>
<text x="4568" y="619" font-size="32" textLength="148" lengthAdjust="spacingAndGlyphs">GDPG-Twin</text>
<text x="4800" y="633" font-size="32" textLength="58" lengthAdjust="spacingAndGlyphs">ZOO</text>
<text x="2934" y="873" font-size="24" fill="#fff" text-anchor="middle" textLength="62" lengthAdjust="spacingAndGlyphs">3-layer</text><text x="2934" y="900" font-size="24" fill="#fff" text-anchor="middle" textLength="56" lengthAdjust="spacingAndGlyphs">GCNN</text>
<text x="3065" y="873" font-size="24" text-anchor="middle">LGS</text><text x="3065" y="900" font-size="24" text-anchor="middle" textLength="92" lengthAdjust="spacingAndGlyphs">[Joo 2012]</text>
<text x="3035" y="922" font-size="18" class="i" textLength="60" lengthAdjust="spacingAndGlyphs">Baseline</text>
<g font-size="23"><text x="2847" y="969" textLength="268" lengthAdjust="spacingAndGlyphs">C. Joo and N. B. Shroff, "Local</text><text x="2847" y="996" textLength="240" lengthAdjust="spacingAndGlyphs">Greedy Approximation for</text><text x="2847" y="1023" textLength="226" lengthAdjust="spacingAndGlyphs">Scheduling in Multihop</text><text x="2847" y="1051" textLength="252" lengthAdjust="spacingAndGlyphs">Wireless Networks," in <tspan class="i">IEEE</tspan></text><text x="2847" y="1077" class="i" textLength="212" lengthAdjust="spacingAndGlyphs">Transactions on Mobile</text><text x="2847" y="1105" textLength="268" lengthAdjust="spacingAndGlyphs"><tspan class="i">Computing</tspan>, vol. 11, no. 3, pp.</text><text x="2847" y="1130" textLength="242" lengthAdjust="spacingAndGlyphs">414-426, March 2012, doi:</text><text x="2847" y="1158" textLength="212" lengthAdjust="spacingAndGlyphs">10.1109/TMC.2011.33.</text></g>
<g class="se" font-size="25">
<text x="3167" y="968" textLength="541" lengthAdjust="spacingAndGlyphs">Figure 1: Approximation ratios (Larger is better) of the</text><text x="3167" y="995" textLength="541" lengthAdjust="spacingAndGlyphs">vanilla and GCNN-enhanced distributed heuristics for</text><text x="3167" y="1023" textLength="476" lengthAdjust="spacingAndGlyphs">MWIS problem (max), w.r.t. the optimal solver.</text>
<text x="3821" y="968" textLength="545" lengthAdjust="spacingAndGlyphs">Figure 3: Average local communication complexity of</text><text x="3821" y="996" textLength="545" lengthAdjust="spacingAndGlyphs">GCNN-enhanced and vanilla LGS-MWIS solvers per</text><text x="3821" y="1024" textLength="528" lengthAdjust="spacingAndGlyphs">instance, in rounds, excluding the GCNN (N = ∞).</text>
<text x="4465" y="974" textLength="546" lengthAdjust="spacingAndGlyphs">Figure 8: Performance trajectories of GCNN-enhanced</text><text x="4465" y="1002" textLength="546" lengthAdjust="spacingAndGlyphs">LGS-MWIS trained by GDPG-Twin and ZOOs with</text><text x="4465" y="1030" textLength="546" lengthAdjust="spacingAndGlyphs">2-point and 11-point gradient estimations. Larger is</text><text x="4465" y="1058" textLength="525" lengthAdjust="spacingAndGlyphs">better. GDPG-Twin needs fewer evaluations of h(·).</text>
<text x="3365" y="1695" textLength="493" lengthAdjust="spacingAndGlyphs">Figure 2: Approximation ratio (Smaller is better) of the</text><text x="3365" y="1721" textLength="493" lengthAdjust="spacingAndGlyphs">GCNN-enhanced w.r.t. the vanilla Greedy-MWDS for</text><text x="3365" y="1745" textLength="466" lengthAdjust="spacingAndGlyphs">MWDS problem (min) on 4 sets of random graphs.</text>
<text x="3923" y="1697" textLength="498" lengthAdjust="spacingAndGlyphs">Figure 5: Approximation ratio (Smaller is better) of</text><text x="3923" y="1723" textLength="498" lengthAdjust="spacingAndGlyphs">the GCNN-enhanced w.r.t. vanilla K-SPH-NWST for</text><text x="3923" y="1748" textLength="498" lengthAdjust="spacingAndGlyphs">NWST problem on 4 sets of random graphs. NWST is</text><text x="3923" y="1774" textLength="284" lengthAdjust="spacingAndGlyphs">a minimization (min) problem.</text>
<text x="4478" y="1695" textLength="494" lengthAdjust="spacingAndGlyphs">Figure 6: Approximation ratios (Smaller is better) of</text><text x="4478" y="1721" textLength="494" lengthAdjust="spacingAndGlyphs">the vanilla and GCNN-enhanced distributed heuristics</text><text x="4478" y="1746" textLength="494" lengthAdjust="spacingAndGlyphs">w.r.t. a centralized heuristic for MWCDS problem on 4</text><text x="4478" y="1771" textLength="474" lengthAdjust="spacingAndGlyphs">sets of random graphs. MWCDS is a min. problem.</text>
</g>

<!-- GDPG-Twin box -->
<rect x="2843" y="1202" width="511" height="687" fill="#dae0f1"/>
<g font-size="35"><text x="2851" y="1243" textLength="183" lengthAdjust="spacingAndGlyphs">GDPG-Twin</text>
<text x="2851" y="1292">1.</text><text x="2901" y="1292" textLength="392" lengthAdjust="spacingAndGlyphs">Generalized ML pipeline</text><text x="2901" y="1339" textLength="323" lengthAdjust="spacingAndGlyphs">for different R-COPs</text>
<text x="2851" y="1388">2.</text><text x="2901" y="1388" textLength="440" lengthAdjust="spacingAndGlyphs">Close optimality gap of fast</text><text x="2901" y="1437" textLength="415" lengthAdjust="spacingAndGlyphs">and distributed heuristics</text><text x="2901" y="1484" textLength="348" lengthAdjust="spacingAndGlyphs">under different graph</text><text x="2901" y="1532" textLength="205" lengthAdjust="spacingAndGlyphs">distributions</text>
<text x="2851" y="1580">3.</text><text x="2901" y="1580" textLength="405" lengthAdjust="spacingAndGlyphs">Slightly reduce execution</text><text x="2901" y="1628" textLength="364" lengthAdjust="spacingAndGlyphs">time with high reusing</text><text x="2901" y="1677" textLength="96" lengthAdjust="spacingAndGlyphs">factor</text>
<text x="2851" y="1724">4.</text><text x="2901" y="1724" textLength="432" lengthAdjust="spacingAndGlyphs">Improve training efficiency</text><text x="2901" y="1772" textLength="425" lengthAdjust="spacingAndGlyphs">by 2~3 times compared to</text><text x="2901" y="1820" textLength="422" lengthAdjust="spacingAndGlyphs">Zeroth-order optimization</text><text x="2901" y="1868" textLength="96" lengthAdjust="spacingAndGlyphs">(ZOO)</text></g>

<text x="3433" y="1122" font-size="27" class="i" textLength="425" lengthAdjust="spacingAndGlyphs">Minimum Weighted Dominating Set</text>
<text x="4041" y="1124" font-size="27" class="i" textLength="328" lengthAdjust="spacingAndGlyphs">Node Weighted Steiner Tree</text>
<text x="4579" y="1124" font-size="27" class="i" textLength="366" lengthAdjust="spacingAndGlyphs">Minimum Weighted Connected</text>
<text x="4671" y="1160" font-size="27" class="i" textLength="184" lengthAdjust="spacingAndGlyphs">Dominating Set</text>

<g transform="matrix(1.416 0 0 .5485 2820 1080)">
<!-- MWDS -->
<path fill="none" stroke="#222" stroke-width="2.5" d="M540 184L605 168M605 168L636 177M540 184L524 293M540 184L565 267M540 184L602 287M605 168L565 267M605 168L625 358M636 177L565 267M636 177L602 287M524 293L565 267M524 293L539 372M565 267L602 287M565 267L539 372M602 287L578 350M602 287L539 372M602 287L625 358M539 372L602 381M578 350L602 381M625 358L602 381"/>
<path class="d" stroke="#222" stroke-width="21" d="M540 184h.1M605 168h.1M636 177h.1M524 293h.1M565 267h.1M602 287h.1M539 372h.1M578 350h.1M602 381h.1M625 358h.1"/>
<path class="d" stroke="#fff" stroke-width="17" d="M605 168h.1M524 293h.1M565 267h.1M578 350h.1M602 381h.1M625 358h.1"/>
<path class="d" stroke="#8a2a2a" stroke-width="17" d="M540 184h.1M636 177h.1M602 287h.1M539 372h.1"/>
<!-- NWST -->
<path fill="none" stroke="#111" stroke-width="5" d="M942 158L986 218M942 158L952 218L930 255L909 302L934 340L962 335"/>
<path fill="none" stroke="#111" stroke-width="2.5" stroke-dasharray="4 4" d="M906 192L942 158M952 218L986 218M986 218L1001 166M962 280L962 335M962 335L990 356M984 295L1012 280M984 295L990 356"/>
<path class="d" stroke="#111" stroke-width="14" d="M906 192h.1M942 158h.1M1001 166h.1M986 218h.1M952 218h.1M930 255h.1M962 280h.1M1012 280h.1M984 295h.1M909 302h.1M934 340h.1M962 335h.1M990 356h.1"/>
<path class="d" stroke="#fff" stroke-width="10" d="M906 192h.1M1001 166h.1M952 218h.1M962 280h.1M1012 280h.1M984 295h.1M909 302h.1M934 340h.1M990 356h.1"/>
<path class="d" stroke="#d86ad0" stroke-width="10" d="M942 158h.1M986 218h.1M930 255h.1M962 335h.1"/>
<!-- MWCDS -->
<path fill="none" stroke="#777" stroke-width="1.5" d="M1288 212L1315 202L1342 222L1388 170L1420 235L1395 222M1275 248L1288 212M1275 248L1300 262M1285 296L1300 262M1305 345L1326 335M1330 378L1326 335M1355 368L1356 323M1410 345L1376 285M1345 268L1315 202M1342 222L1395 222"/>
<path fill="none" stroke="#111" stroke-width="3" d="M1300 262L1321 272L1345 268L1376 285L1356 323L1326 335L1300 262M1376 285L1394 222L1410 273L1435 273"/>
<path class="d" stroke="#6d90d8" stroke-width="14" d="M1288 212h.1M1315 202h.1M1342 222h.1M1388 170h.1M1420 235h.1M1275 248h.1M1285 296h.1M1305 345h.1M1330 378h.1M1355 368h.1M1410 345h.1M1345 268h.1M1435 395h.1"/>
<path class="d" stroke="#d84a1e" stroke-width="14" d="M1300 262h.1M1321 272h.1M1376 285h.1M1356 323h.1M1326 335h.1M1394 222h.1M1410 273h.1M1436 325h.1"/>
<path class="q" stroke="#d81b9a" stroke-width="12" d="M1435 273h.1"/>
<path d="M1432 338H1458M1432 355H1458M1432 375H1458" stroke="#999" stroke-width="1.5"/>
<!-- chart 4 -->
<path class="gr" d="M428 535H731M428 597H731M428 659H731M428 721H731M428 783H731M428 845H731M428 907H731M443 447V970M477 447V970M511 447V970M546 447V970M580 447V970M614 447V970M649 447V970M683 447V970M717 447V970"/>
<rect x="428" y="447" width="303" height="523" fill="none" stroke="#333" stroke-width="2"/>
<path d="M428 473H731" stroke="#111" stroke-width="3" stroke-dasharray="3 2"/>
<polyline class="l" stroke="#4c7fb8" stroke-width="3" points="443,698 477,733 511,757 546,775 580,783 614,743 649,775 683,764 717,783"/>
<polyline class="l" stroke="#e59a4a" stroke-width="3" points="443,633 477,636 511,641 546,641 580,644 614,632 649,658 683,637 717,646"/>
<polyline class="l" stroke="#5aa83c" stroke-width="3" points="443,535 477,551 511,569 546,538 580,558 614,528 649,578 683,495 717,560"/>
<polyline class="l" stroke="#c7353f" stroke-width="3" points="443,501 477,537 511,549 546,519 580,565 614,539 649,535 683,531 717,567"/>
<path class="d" stroke="#4c7fb8" stroke-width="9" d="M443 698h.1M477 733h.1M511 757h.1M546 775h.1M580 783h.1M614 743h.1M649 775h.1M683 764h.1M717 783h.1"/>
<path class="d" stroke="#e59a4a" stroke-width="7" d="M443 633h.1M477 636h.1M511 641h.1M546 641h.1M580 644h.1M614 632h.1M649 658h.1M683 637h.1M717 646h.1"/>
<path class="d" stroke="#5aa83c" stroke-width="7" d="M443 535h.1M477 551h.1M511 569h.1M546 538h.1M580 558h.1M614 528h.1M649 578h.1M683 495h.1M717 560h.1"/>
<path class="d" stroke="#c7353f" stroke-width="7" d="M443 501h.1M477 537h.1M511 549h.1M546 519h.1M580 565h.1M614 539h.1M649 535h.1M683 531h.1M717 567h.1"/>
<path stroke-width="3" d="M438 798H462" stroke="#4c7fb8"/><path stroke-width="3" d="M438 841H462" stroke="#e59a4a"/><path stroke-width="3" d="M438 883H462" stroke="#5aa83c"/><path stroke-width="3" d="M438 926H462" stroke="#c7353f"/>
<path d="M650 440L638 473M1055 440L1040 467M1380 930L1350 955" stroke="#222" stroke-width="1.5" fill="none"/>
<!-- chart 5 -->
<path class="gr" d="M818 564H1130M818 660H1130M818 756H1130M818 852H1130M818 947H1130M832 444V970M903 444V970M974 444V970M1045 444V970M1116 444V970"/>
<rect x="818" y="444" width="312" height="526" fill="none" stroke="#333" stroke-width="2"/>
<path d="M818 468H1130" stroke="#111" stroke-width="3" stroke-dasharray="3 2"/>
<polyline class="l" stroke="#4c7fb8" stroke-width="3" points="832,743 903,773 974,773 1045,815 1116,863"/>
<polyline class="l" stroke="#e59a4a" stroke-width="3" points="832,508 903,537 974,547 1045,535 1116,553"/>
<polyline class="l" stroke="#5aa83c" stroke-width="3" points="832,512 903,527 974,545 1045,527 1116,515"/>
<polyline class="l" stroke="#c7353f" stroke-width="3" points="832,510 903,500 974,517 1045,517 1116,498"/>
<path class="d" stroke="#4c7fb8" stroke-width="9" d="M832 743h.1M903 773h.1M974 773h.1M1045 815h.1M1116 863h.1"/>
<path class="d" stroke="#e59a4a" stroke-width="7" d="M832 508h.1M903 537h.1M974 547h.1M1045 535h.1M1116 553h.1"/>
<path class="d" stroke="#5aa83c" stroke-width="7" d="M832 512h.1M903 527h.1M974 545h.1M1045 527h.1M1116 515h.1"/>
<path class="d" stroke="#c7353f" stroke-width="7" d="M832 510h.1M903 500h.1M974 517h.1M1045 517h.1M1116 498h.1"/>
<rect x="1058" y="600" width="66" height="215" fill="#fff" fill-opacity=".85"/>
<path stroke-width="3" d="M1063 657H1087" stroke="#4c7fb8"/><path stroke-width="3" d="M1063 700H1087" stroke="#e59a4a"/><path stroke-width="3" d="M1063 744H1087" stroke="#5aa83c"/><path stroke-width="3" d="M1063 787H1087" stroke="#c7353f"/>
<!-- chart 6 -->
<path class="gr" d="M1204 530H1519M1204 601H1519M1204 671H1519M1204 743H1519M1204 813H1519M1204 884H1519M1217 447V965M1275 447V965M1333 447V965M1391 447V965M1449 447V965M1507 447V965"/>
<rect x="1204" y="447" width="315" height="518" fill="none" stroke="#333" stroke-width="2"/>
<path d="M1204 955H1519" stroke="#6a2fc0" stroke-width="3" stroke-dasharray="2 2"/>
<polyline class="l" stroke="#4c7fb8" stroke-width="3" points="1217,660 1275,640 1333,623 1391,623 1449,614 1507,608"/>
<polyline class="l" stroke="#4c7fb8" stroke-width="3" stroke-dasharray="5 4" points="1217,626 1275,622 1333,594 1391,597 1449,583 1507,577"/>
<polyline class="l" stroke="#e59a4a" stroke-width="3" points="1217,725 1275,740 1333,745 1391,745 1449,740 1507,743"/>
<polyline class="l" stroke="#e59a4a" stroke-width="3" stroke-dasharray="5 4" points="1217,656 1275,650 1333,658 1391,653 1449,655 1507,653"/>
<polyline class="l" stroke="#5aa83c" stroke-width="3" points="1217,761 1275,752 1333,746 1391,708 1449,658 1507,565"/>
<polyline class="l" stroke="#5aa83c" stroke-width="3" stroke-dasharray="5 4" points="1217,725 1275,660 1333,610 1391,562 1449,540 1507,498"/>
<polyline class="l" stroke="#c7353f" stroke-width="3" points="1217,747 1275,760 1333,775 1391,765 1449,770 1507,770"/>
<polyline class="l" stroke="#c7353f" stroke-width="3" stroke-dasharray="5 4" points="1217,725 1275,723 1333,732 1391,727 1449,738 1507,733"/>
<path class="d" stroke="#4c7fb8" stroke-width="8" d="M1275 640h.1M1333 623h.1M1391 623h.1M1449 614h.1M1507 608h.1M1217 626h.1M1275 622h.1M1333 594h.1M1391 597h.1M1449 583h.1M1507 577h.1"/>
<path class="d" stroke="#5aa83c" stroke-width="8" d="M1391 708h.1M1449 658h.1M1507 565h.1M1275 660h.1M1333 610h.1M1391 562h.1M1449 540h.1M1507 498h.1"/>
<path class="d" stroke="#c7353f" stroke-width="8" d="M1217 747h.1M1275 760h.1M1333 775h.1M1391 765h.1M1449 770h.1M1507 770h.1M1217 725h.1M1275 723h.1M1333 732h.1M1391 727h.1M1449 738h.1M1507 733h.1"/>
<path class="d" stroke="#e59a4a" stroke-width="8" d="M1217 656h.1M1275 650h.1M1333 658h.1M1391 653h.1M1449 655h.1M1507 653h.1"/>
<path d="M1425 500L1408 730M1440 505L1450 580M1430 505L1410 700M1446 505L1462 530" stroke="#222" stroke-width="1.2" fill="none"/>
<path stroke-width="3" d="M1213 822H1235" stroke="#4c7fb8"/><path stroke-width="3" d="M1213 858H1235" stroke="#e59a4a"/><path stroke-width="3" d="M1213 895H1235" stroke="#5aa83c"/><path stroke-width="3" d="M1213 932H1235" stroke="#c7353f"/><path stroke-width="3" d="M1290 822H1310" stroke="#222"/><path stroke-width="3" d="M1290 859H1310" stroke="#222" stroke-dasharray="5 4"/>
<!-- pipelines -->
<rect class="t" x="446" y="1301" width="84" height="147" rx="11" ry="22"/><rect x="562" y="1301" width="115" height="147" rx="11" ry="22" fill="#e4e4e4" stroke="#4a66a8" stroke-width="2.5"/>
<rect class="t" x="829" y="1301" width="84" height="147" rx="11" ry="22"/><rect x="945" y="1301" width="115" height="147" rx="11" ry="22" fill="#f6e5d6" stroke="#4a66a8" stroke-width="2.5"/>
<rect class="t" x="1245" y="1301" width="84" height="147" rx="11" ry="22"/><rect x="1360" y="1301" width="115" height="147" rx="11" ry="22" fill="#fbf2d3" stroke="#4a66a8" stroke-width="2.5"/>
<path d="M414 1374H445M530 1374H561M677 1374H706M797 1374H828M913 1374H944M1060 1374H1089M1212 1374H1244M1329 1374H1359M1475 1374H1504" stroke="#4f71be" stroke-width="2.5" marker-end="url(#ab)" fill="none"/>
</g>
<text x="3735" y="1210" font-size="22" fill="#a6a6a6">Source:</text><text x="3735" y="1232" font-size="22" fill="#a6a6a6" textLength="108" lengthAdjust="spacingAndGlyphs">J. Abernethy,</text><text x="3735" y="1254" font-size="22" fill="#a6a6a6" textLength="72" lengthAdjust="spacingAndGlyphs">CS 3510</text>
<g class="i" font-size="22" fill="#a6a6a6"><text x="4281" y="1200">Source:</text><text x="4281" y="1222" textLength="170" lengthAdjust="spacingAndGlyphs">(M. Fujita, T. Kimura,</text><text x="4281" y="1243" textLength="142" lengthAdjust="spacingAndGlyphs">&amp; K. Jin’no, 2016)</text><text x="4955" y="1200">Source:</text><text x="4842" y="1222" textLength="176" lengthAdjust="spacingAndGlyphs">(G.V. Shaamili Varsa,</text><text x="4858" y="1243" textLength="160" lengthAdjust="spacingAndGlyphs">D. Sridharan, 2019)</text></g>
<g font-size="15" fill="#111"><text x="4120" y="1172">5</text><text x="4148" y="1178">4</text><text x="4152" y="1200">1</text><text x="4141" y="1215">1</text><text x="4205" y="1200">1</text><text x="4250" y="1205">3</text><text x="4180" y="1215">3</text><text x="4110" y="1232">1</text><text x="4155" y="1230">2</text><text x="4205" y="1228">1</text><text x="4232" y="1232">1</text><text x="4180" y="1255">2</text><text x="4120" y="1272">1</text><text x="4160" y="1288">1</text><text x="4195" y="1290">2</text><text x="4248" y="1265">3</text></g>
<g class="dj" fill="#333">
<g font-size="14"><text x="3388" y="1344">1.000</text><text x="3388" y="1378">0.975</text><text x="3388" y="1412">0.950</text><text x="3388" y="1446">0.925</text><text x="3388" y="1480">0.900</text><text x="3388" y="1514">0.875</text><text x="3388" y="1548">0.850</text><text x="3388" y="1582">0.825</text><text x="3388" y="1616">0.800</text>
<text x="3438" y="1630">100</text><text x="3486" y="1630">150</text><text x="3534" y="1630">200</text><text x="3583" y="1630">250</text><text x="3631" y="1630">300</text><text x="3679" y="1630">350</text><text x="3728" y="1630">400</text><text x="3776" y="1630">450</text><text x="3824" y="1630">500</text>
<text x="3946" y="1341">1.00</text><text x="3946" y="1394">0.98</text><text x="3946" y="1447">0.96</text><text x="3946" y="1499">0.94</text><text x="3946" y="1552">0.92</text><text x="3946" y="1604">0.90</text>
<text x="3985" y="1632">100</text><text x="4086" y="1632">150</text><text x="4186" y="1632">200</text><text x="4287" y="1632">250</text><text x="4387" y="1632">300</text>
<text x="4502" y="1338">4.5</text><text x="4502" y="1376">4.0</text><text x="4502" y="1415">3.5</text><text x="4502" y="1453">3.0</text><text x="4502" y="1493">2.5</text><text x="4502" y="1531">2.0</text><text x="4502" y="1570">1.5</text><text x="4502" y="1609">1.0</text>
<text x="4532" y="1630">100</text><text x="4614" y="1630">150</text><text x="4696" y="1630">200</text><text x="4778" y="1630">250</text><text x="4860" y="1630">300</text><text x="4942" y="1630">350</text></g>
<text x="3597" y="1646" font-size="19" textLength="88" lengthAdjust="spacingAndGlyphs">Graph Size</text><text x="4155" y="1648" font-size="19" textLength="87" lengthAdjust="spacingAndGlyphs">Graph Size</text><text x="4705" y="1646" font-size="19" textLength="87" lengthAdjust="spacingAndGlyphs">Graph Size</text>
<text transform="translate(3378 1605) rotate(-90)" font-size="17" textLength="270" lengthAdjust="spacingAndGlyphs">Approx. Ratio w.r.t. Greedy-MWDS</text>
<text transform="translate(3938 1590) rotate(-90)" font-size="17" textLength="255" lengthAdjust="spacingAndGlyphs">Approx. Ratio w.r.t. SPH-NWST</text>
<text transform="translate(4493 1605) rotate(-90)" font-size="17" textLength="275" lengthAdjust="spacingAndGlyphs">Approx. Ratio w.r.t. Central Greedy</text>
<g font-size="18"><text x="3486" y="1524">BA</text><text x="3486" y="1547">ER</text><text x="3486" y="1570">GRP</text><text x="3486" y="1593">WS</text>
<text x="4346" y="1424" font-size="14">Graph</text><text x="4371" y="1446">BA</text><text x="4371" y="1470">ER</text><text x="4371" y="1494">GRP</text><text x="4371" y="1517">WS</text>
<text x="4578" y="1516">Graph</text><text x="4686" y="1516">Solver</text><text x="4578" y="1536" font-size="16">BA</text><text x="4578" y="1556" font-size="16">ER</text><text x="4578" y="1576" font-size="16">GRP</text><text x="4578" y="1596" font-size="16">WS</text><text x="4686" y="1536" font-size="15" textLength="155" lengthAdjust="spacingAndGlyphs">GCNN(5)+Dist.Greedy</text><text x="4686" y="1556" font-size="15" textLength="82" lengthAdjust="spacingAndGlyphs">Dist.Greedy</text></g>
</g>
<text x="3743" y="1320" font-size="27" class="i" textLength="89" lengthAdjust="spacingAndGlyphs">Baseline</text><text x="4314" y="1320" font-size="27" class="i" textLength="89" lengthAdjust="spacingAndGlyphs">Baseline</text><text x="4792" y="1353" font-size="27" class="i" textLength="87" lengthAdjust="spacingAndGlyphs">Baseline</text>
<text x="3592" y="1574" font-size="25" class="i" fill="#7f7f7f" textLength="181" lengthAdjust="spacingAndGlyphs">(Smaller is better)</text><text x="4120" y="1574" font-size="25" class="i" fill="#7f7f7f" textLength="183" lengthAdjust="spacingAndGlyphs">(Smaller is better)</text><text x="4545" y="1360" font-size="25" class="i" fill="#7f7f7f" textLength="182" lengthAdjust="spacingAndGlyphs">(Smaller is better)</text>
<text x="4746" y="1596" font-size="25" class="i" textLength="170" lengthAdjust="spacingAndGlyphs">Centralized Greedy</text>
<text x="3511" y="1843" font-size="32" fill="#fff" text-anchor="middle" textLength="82" lengthAdjust="spacingAndGlyphs">GCNN</text><text x="3696" y="1843" font-size="32" fill="#7030a0" text-anchor="middle" textLength="118" lengthAdjust="spacingAndGlyphs">Heuristic</text>
<text x="4053" y="1843" font-size="32" fill="#fff" text-anchor="middle" textLength="82" lengthAdjust="spacingAndGlyphs">GCNN</text><text x="4239" y="1843" font-size="32" fill="#7030a0" text-anchor="middle" textLength="118" lengthAdjust="spacingAndGlyphs">Heuristic</text>
<text x="4640" y="1843" font-size="32" fill="#fff" text-anchor="middle" textLength="82" lengthAdjust="spacingAndGlyphs">GCNN</text><text x="4828" y="1843" font-size="32" fill="#7030a0" text-anchor="middle" textLength="118" lengthAdjust="spacingAndGlyphs">Heuristic</text>
<g font-size="21" fill="#555"><text x="3586" y="1896" textLength="221" lengthAdjust="spacingAndGlyphs">Centralized Greedy-MWDS</text><text x="4148" y="1896" textLength="210" lengthAdjust="spacingAndGlyphs">Distributed K-SPH-NWST</text><text x="4726" y="1891" textLength="153" lengthAdjust="spacingAndGlyphs">Distributed Greedy-</text><text x="4770" y="1910" textLength="68" lengthAdjust="spacingAndGlyphs">MWCDS</text><text x="4884" y="1897">9</text></g>

<!-- R-COP MDP panel -->
<rect x="2830" y="1936" width="1584" height="867" fill="#fff" stroke="#4c66a8" stroke-width="5"/>
<rect x="2850" y="1955" width="737" height="59" fill="#000080"/>
<text x="2850" y="2000" font-size="46" class="b" fill="#fff" textLength="737" lengthAdjust="spacingAndGlyphs">R-COP in graph-based MDP:</text>
<text x="3587" y="2003" font-size="33" textLength="514" lengthAdjust="spacingAndGlyphs">Delay-oriented link scheduling*</text>
<g class="se" font-size="30" fill="#444">
<text x="2894" y="2113" fill="#7030a0">q(<tspan class="i">t</tspan>)</text><text x="3039" y="2113" textLength="86" lengthAdjust="spacingAndGlyphs">q̃(<tspan class="i">t</tspan> + 1)</text><text x="3219" y="2113" textLength="86" lengthAdjust="spacingAndGlyphs">q̃(<tspan class="i">t</tspan> + 2)</text><text x="3396" y="2113" textLength="86" lengthAdjust="spacingAndGlyphs">q̃(<tspan class="i">t</tspan> + 3)</text><text x="3585" y="2113" textLength="86" lengthAdjust="spacingAndGlyphs">q̃(<tspan class="i">t</tspan> + 4)</text>
<text x="2973" y="2244">x̃(<tspan class="i">t</tspan>)</text><text x="3119" y="2246" textLength="84" lengthAdjust="spacingAndGlyphs">x̃(<tspan class="i">t</tspan> + 1)</text><text x="3323" y="2246" textLength="84" lengthAdjust="spacingAndGlyphs">x̃(<tspan class="i">t</tspan> + 2)</text><text x="3500" y="2246" textLength="84" lengthAdjust="spacingAndGlyphs">x̃(<tspan class="i">t</tspan> + 3)</text></g>
<text x="2959" y="2277" font-size="23" fill="#2f5597" textLength="71" lengthAdjust="spacingAndGlyphs">Policy 1</text>
<g transform="matrix(1.416 0 0 .596 2820 1900)">
<path class="bar" style="stroke-width:6" d="M44 370V412M48 460V490M17 458V475M101 505V522M42 545V565M178 368V410M150 440V470M183 450V495M228 410V425M235 488V522M175 550V565M304 398V412M305 435V500M356 392V425M360 512V520M300 530V565M432 392V410M405 455V472M435 440V495M483 412V425M489 503V520M430 548V562M559 388V410M531 465V472M563 465V490M610 400V423M615 490V518M555 545V562"/>
<path class="e" style="stroke-width:2;stroke-dasharray:5 3" d="M48 432L89 432L58 485L48 432M89 432L92 512L58 485L48 533L92 512M27 480L48 533M182 430L224 430L188 488L182 430M224 430L225 510L188 488L182 530L225 510M160 478L182 530M308 428L349 428L318 483L308 428M349 428L352 512L318 483L308 530L352 512M280 475L308 530M441 428L478 428L445 487L441 428M478 428L483 510L445 487L441 530L483 510M413 478L441 530M562 427L604 427L570 483L562 427M604 427L607 510L570 483L562 530L607 510M541 478L562 530"/>
<path class="d" stroke="#4d6db5" stroke-width="9" d="M48 432h.1M89 432h.1M27 480h.1M58 485h.1M92 512h.1M48 533h.1M182 430h.1M224 430h.1M160 478h.1M188 488h.1M225 510h.1M182 530h.1M308 428h.1M349 428h.1M280 475h.1M318 483h.1M352 512h.1M308 530h.1M441 428h.1M478 428h.1M413 478h.1M445 487h.1M483 510h.1M441 530h.1M562 427h.1M604 427h.1M541 478h.1M570 483h.1M607 510h.1M562 530h.1"/>
<g fill="none" stroke="#d00010" stroke-width="3.5"><ellipse cx="48" cy="432" rx="7" ry="14"/><ellipse cx="27" cy="480" rx="7" ry="14"/><ellipse cx="92" cy="512" rx="7" ry="14"/></g>
<g fill="none" stroke="#1f3470" stroke-width="3.5"><ellipse cx="89" cy="432" rx="7" ry="14"/><ellipse cx="48" cy="533" rx="7" ry="14"/><ellipse cx="182" cy="430" rx="7" ry="14"/><ellipse cx="160" cy="478" rx="7" ry="14"/><ellipse cx="225" cy="510" rx="7" ry="14"/><ellipse cx="349" cy="428" rx="7" ry="14"/><ellipse cx="308" cy="530" rx="7" ry="14"/><ellipse cx="413" cy="478" rx="7" ry="14"/><ellipse cx="445" cy="487" rx="7" ry="14"/></g>
<ellipse cx="134" cy="760" rx="50" ry="60" fill="#fff" stroke="#a00000" stroke-width="3"/>
<path d="M172 808L245 938" stroke="#b00000" stroke-width="2" marker-end="url(#ar)" fill="none"/>
<!-- boxplot -->
<path class="gr" d="M726 315H1111M726 396H1111M726 476H1111M726 612H1111M726 693H1111M726 773H1111M751 228V821M799 228V821M847 228V821M895 228V821M943 228V821M991 228V821M1039 228V821M1087 228V821"/>
<path d="M726 235H1111M726 532H1111" stroke="#ccc" stroke-width="2"/>
<rect x="726" y="228" width="385" height="593" fill="none" stroke="#333" stroke-width="2"/>
<path d="M726 523H1111M1000 228V523" stroke="#222" stroke-width="2.5"/>
<path fill="none" stroke="#333" stroke-width="2" d="M741 295V338M761 290V345M789 297V375M809 295V362M837 293V402M857 293V395M885 360V463M905 333V460M933 300V510M953 295V497M981 252V516M1029 370V497M1049 370V500M1077 378V505M1097 378V505M741 586V628M761 586V628M789 590V628M809 590V625M837 590V628M857 595V622M885 605V675M905 605V675M933 595V630M953 592V638M981 593V625M1001 593V625M1029 610V708M1049 610V708M1077 645V725M1097 632V722M734 295H748M754 290H768M782 297H796M802 295H816M830 293H844M850 293H864M878 463H892M898 333H912M926 510H940M946 295H960M974 252H988M1022 497H1036M1042 500H1056M1070 505H1084M1090 505H1104"/>
<g fill="#3e6ea3" stroke="#333" stroke-width="1.5"><rect x="731" y="308" width="20" height="17"/><rect x="779" y="315" width="20" height="17"/><rect x="827" y="327" width="20" height="38"/><rect x="875" y="388" width="20" height="43"/><rect x="923" y="375" width="20" height="70"/><rect x="971" y="388" width="20" height="128"/><rect x="1019" y="414" width="20" height="41"/><rect x="1067" y="435" width="20" height="45"/>
<rect x="731" y="601" width="20" height="14"/><rect x="779" y="603" width="20" height="15"/><rect x="827" y="603" width="20" height="10"/><rect x="875" y="628" width="20" height="22"/><rect x="923" y="606" width="20" height="14"/><rect x="971" y="604" width="20" height="12"/><rect x="1019" y="654" width="20" height="24"/><rect x="1067" y="678" width="20" height="22"/></g>
<g fill="#b4c7e2" stroke="#333" stroke-width="1.5"><rect x="751" y="310" width="20" height="15"/><rect x="799" y="314" width="20" height="14"/><rect x="847" y="330" width="20" height="30"/><rect x="895" y="383" width="20" height="38"/><rect x="943" y="381" width="20" height="59"/><rect x="991" y="393" width="20" height="130"/><rect x="1039" y="420" width="20" height="35"/><rect x="1087" y="423" width="20" height="47"/>
<rect x="751" y="603" width="20" height="12"/><rect x="799" y="604" width="20" height="13"/><rect x="847" y="603" width="20" height="9"/><rect x="895" y="630" width="20" height="20"/><rect x="943" y="606" width="20" height="12"/><rect x="991" y="604" width="20" height="10"/><rect x="1039" y="655" width="20" height="24"/><rect x="1087" y="668" width="20" height="32"/></g>
<path class="d" stroke="#5aa83c" stroke-width="9" d="M741 316h.1M761 316h.1M789 324h.1M809 322h.1M837 344h.1M857 348h.1M885 408h.1M905 400h.1M933 412h.1M953 406h.1M981 443h.1M1001 443h.1M1029 433h.1M1049 435h.1M1077 458h.1M1097 447h.1M741 608h.1M761 608h.1M789 610h.1M809 610h.1M837 607h.1M857 607h.1M885 638h.1M905 638h.1M933 612h.1M953 611h.1M981 609h.1M1001 609h.1M1029 665h.1M1049 665h.1M1077 688h.1M1097 683h.1"/>
<rect x="732" y="700" width="153" height="108" rx="3" fill="#fff" fill-opacity=".9" stroke="#ddd"/>
<rect x="735" y="745" width="20" height="17" fill="#3e6ea3"/><rect x="735" y="779" width="20" height="17" fill="#b4c7e2"/>
<g fill="none" stroke="#7fd37f" stroke-width="1.5"><rect x="766" y="1050" width="90" height="52"/><rect x="862" y="1050" width="55" height="52"/></g>
<path d="M113 467H130M248 476H264M375 476H390M502 476H516" stroke="#c6d9f1" stroke-width="11" fill="none"/>
</g>
<text x="2962" y="2362" font-size="38" class="se" fill="#222" textLength="613" lengthAdjust="spacingAndGlyphs">q(t + 1) = q(t) + a(t) − x(t) ⊙ min(l(t), q(t))</text>
<text x="2955" y="2495" font-size="33" textLength="140" lengthAdjust="spacingAndGlyphs">Minimize</text>
<text x="3134" y="2490" font-size="36" class="se" fill="#333" textLength="269" lengthAdjust="spacingAndGlyphs">𝔼<tspan font-size="26" class="i">i∈V,t≤T</tspan> [q<tspan font-size="24" class="i">i</tspan>(<tspan class="i">t</tspan>)]</text>
<text x="2881" y="2581" font-size="32" textLength="248" lengthAdjust="spacingAndGlyphs">GDPG-Twin can</text>
<text x="2891" y="2628" font-size="32" textLength="821" lengthAdjust="spacingAndGlyphs">1. enable long-term goal seeking for R-COP in MDP</text>
<text x="2891" y="2678" font-size="32" textLength="393" lengthAdjust="spacingAndGlyphs">2. do the same job of an</text>
<text x="3292" y="2678" font-size="32" text-decoration="underline" textLength="294" lengthAdjust="spacingAndGlyphs">ad-hoc RL scheme</text>
<text x="3586" y="2678" font-size="32" textLength="62" lengthAdjust="spacingAndGlyphs">* at</text>
<text x="3657" y="2678" font-size="32" fill="#c00000" textLength="55" lengthAdjust="spacingAndGlyphs">1/5</text>
<text x="3722" y="2678" font-size="32" textLength="311" lengthAdjust="spacingAndGlyphs">computational cost</text>
<text x="2868" y="2739" font-size="22" textLength="1491" lengthAdjust="spacingAndGlyphs">* Z. Zhao, G. Verma, A. Swami and S. Segarra, "Delay-Oriented Distributed Scheduling Using Graph Neural Networks," <tspan class="i">IEEE International Conference</tspan></text>
<text x="2868" y="2770" font-size="22" textLength="1409" lengthAdjust="spacingAndGlyphs"><tspan class="i">on Acoustics, Speech and Signal Processing (ICASSP)</tspan>, Singapore, Singapore, 2022, pp. 8902-8906, doi: 10.1109/ICASSP43922.2022.9746926.</text>
<g class="dj" fill="#333" font-size="17"><text x="3812" y="2045">1.2</text><text x="3812" y="2094">1.0</text><text x="3812" y="2142">0.8</text><text x="3812" y="2190">0.6</text><text x="3812" y="2223">1.2</text><text x="3812" y="2271">1.0</text><text x="3812" y="2319">0.8</text><text x="3812" y="2367">0.6</text>
<text transform="translate(3808 2190) rotate(-90)" font-size="16" textLength="130" lengthAdjust="spacingAndGlyphs">Median Backlog</text><text transform="translate(3808 2360) rotate(-90)" font-size="16" textLength="115" lengthAdjust="spacingAndGlyphs">Mean Backlog</text>
<g font-size="19" text-anchor="middle"><text x="3883" y="2411">ER</text><text x="3951" y="2411" textLength="60" lengthAdjust="spacingAndGlyphs">BA-mix</text><text x="4019" y="2411" textLength="56" lengthAdjust="spacingAndGlyphs">BA-m2</text><text x="4087" y="2411" textLength="54" lengthAdjust="spacingAndGlyphs">Star10</text><text x="4155" y="2411">Tree</text><text x="4223" y="2411" textLength="56" lengthAdjust="spacingAndGlyphs">BA-m1</text><text x="4291" y="2411" textLength="54" lengthAdjust="spacingAndGlyphs">Star20</text><text x="4359" y="2411" textLength="54" lengthAdjust="spacingAndGlyphs">Star30</text>
<text x="3883" y="2430" textLength="48" lengthAdjust="spacingAndGlyphs">2.056</text><text x="3951" y="2430" textLength="48" lengthAdjust="spacingAndGlyphs">4.848</text><text x="4019" y="2430" textLength="48" lengthAdjust="spacingAndGlyphs">5.307</text><text x="4087" y="2430">5.5</text><text x="4155" y="2430" textLength="48" lengthAdjust="spacingAndGlyphs">5.669</text><text x="4223" y="2430" textLength="48" lengthAdjust="spacingAndGlyphs">8.004</text><text x="4291" y="2430">10.5</text><text x="4359" y="2430">15.5</text></g>
<text x="3963" y="2333" font-size="16">train</text><text x="3900" y="2353" font-size="15" textLength="165" lengthAdjust="spacingAndGlyphs">Lookahead RL [Zhao22]</text><text x="3900" y="2373" font-size="15" textLength="75" lengthAdjust="spacingAndGlyphs">GDPG-Twin</text></g>
<text x="3896" y="2457" font-size="34" class="i" fill="#d07a2c" textLength="442" lengthAdjust="spacingAndGlyphs">Measure of graph centralization</text>
<g class="se" font-size="27"><text x="3794" y="2485" textLength="602" lengthAdjust="spacingAndGlyphs">Figure 7: GDPG-Twin achieves similar network-wide</text><text x="3794" y="2516" textLength="602" lengthAdjust="spacingAndGlyphs">mean and medium backlogs (smaller is better) of looka-</text><text x="3794" y="2547" textLength="602" lengthAdjust="spacingAndGlyphs">head RL (Zhao et al., 2022b) in training a distributed</text><text x="3794" y="2578" textLength="590" lengthAdjust="spacingAndGlyphs">link scheduler, using only ⅕ evaluations of h(·) of it.</text></g>

<!-- CONCLUSION -->
<rect x="4423" y="1936" width="605" height="121" fill="#5570be"/>
<text x="4526" y="2026" font-size="84" fill="#ffd966" textLength="395" lengthAdjust="spacingAndGlyphs">Conclusion</text>
<rect x="4423" y="2069" width="601" height="717" fill="#dae0f1"/>
<text x="4433" y="2118" font-size="40" class="b" textLength="235" lengthAdjust="spacingAndGlyphs">GDPG-Twin</text>
<g font-size="38"><text x="4433" y="2176">1.</text><text x="4506" y="2176" textLength="378" lengthAdjust="spacingAndGlyphs">A general actor-critic</text><text x="4506" y="2229" textLength="200" lengthAdjust="spacingAndGlyphs">framework</text>
<text x="4433" y="2283">2.</text><text x="4506" y="2283" textLength="471" lengthAdjust="spacingAndGlyphs">Applicable to R-COPs with</text><text x="4506" y="2337" textLength="360" lengthAdjust="spacingAndGlyphs">limited runtime and</text><text x="4506" y="2392" textLength="386" lengthAdjust="spacingAndGlyphs">distributed execution</text>
<text x="4433" y="2445">3.</text><text x="4506" y="2445" textLength="496" lengthAdjust="spacingAndGlyphs">Reduce optimality gap with</text><text x="4506" y="2499" textLength="250" lengthAdjust="spacingAndGlyphs">min overhead</text>
<text x="4433" y="2553">4.</text><text x="4506" y="2553" textLength="398" lengthAdjust="spacingAndGlyphs">Enable long-term goal</text><text x="4506" y="2606" textLength="136" lengthAdjust="spacingAndGlyphs">seeking</text>
<g class="i" fill="#7030a0"><text x="4433" y="2661">5.</text><text x="4506" y="2661" textLength="461" lengthAdjust="spacingAndGlyphs">Beyond COP → applicable</text><text x="4506" y="2716" textLength="346" lengthAdjust="spacingAndGlyphs">to general network</text><text x="4506" y="2770" textLength="173" lengthAdjust="spacingAndGlyphs">processes</text></g></g>
</svg>
</body></html>
